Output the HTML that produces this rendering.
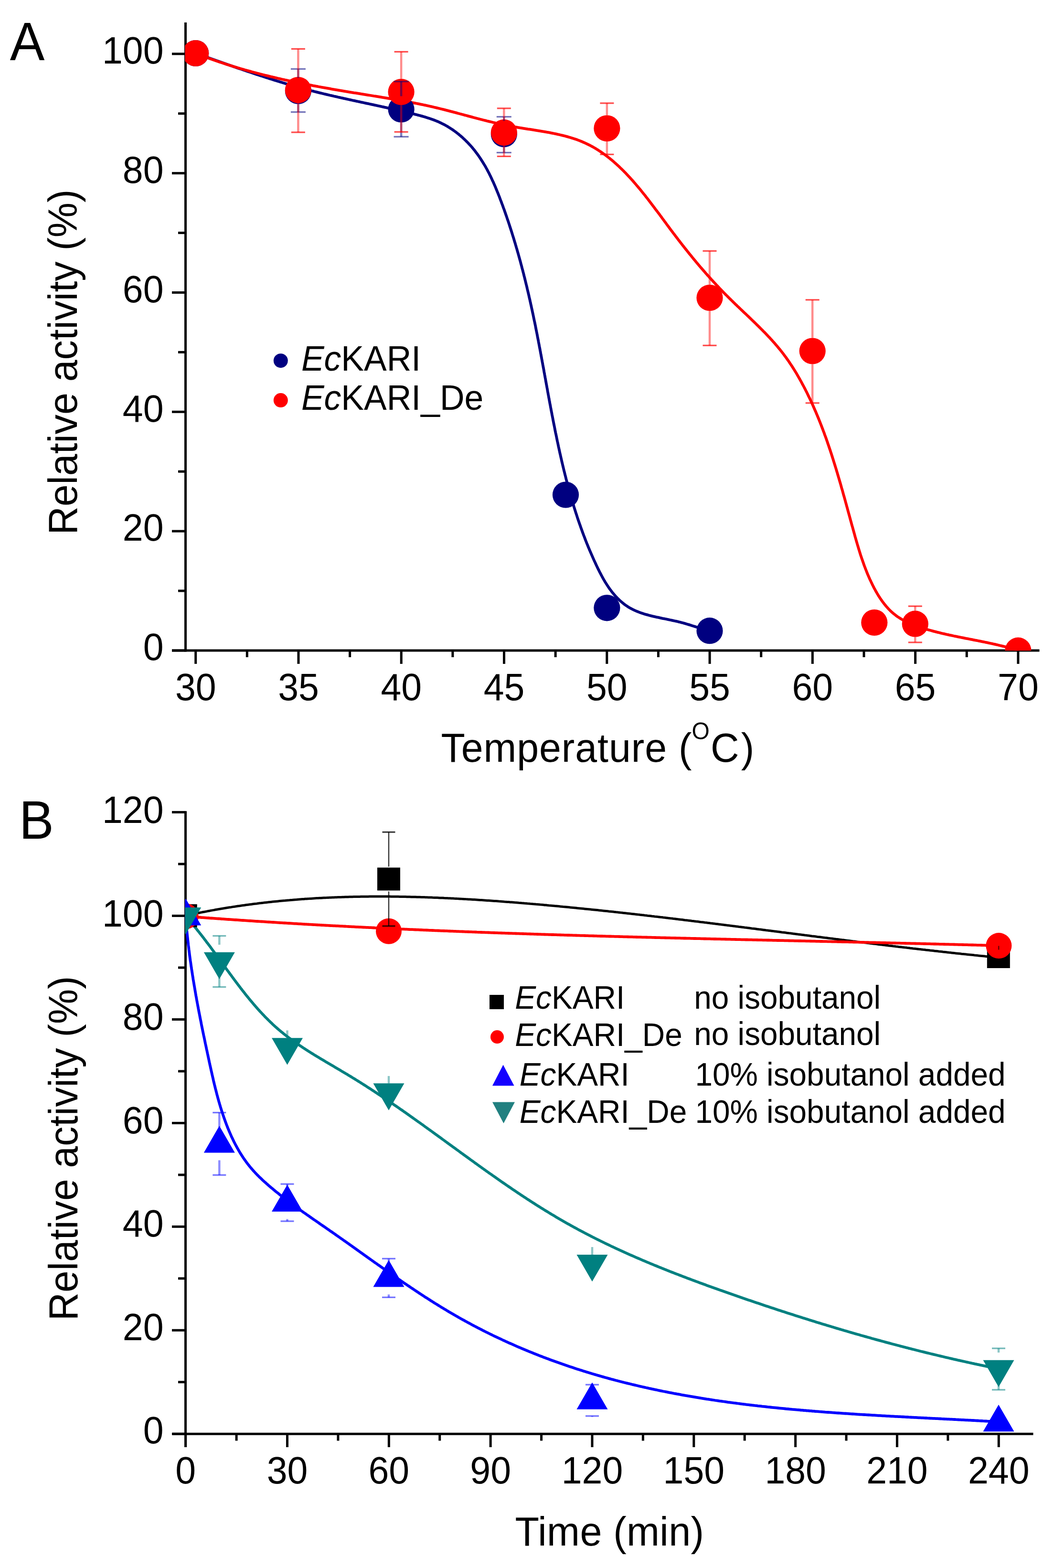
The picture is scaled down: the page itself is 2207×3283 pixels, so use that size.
<!DOCTYPE html>
<html><head><meta charset="utf-8"><title>Relative activity of EcKARI and EcKARI_De</title>
<style>html,body{margin:0;padding:0;background:#fff;}svg{display:block;}text{font-family:"Liberation Sans", Arial, sans-serif;fill:#000;}</style></head><body>
<svg width="2207" height="3283" viewBox="0 0 2207 3283">
<rect x="0" y="0" width="2207" height="3283" fill="#fff"/>
<defs>
<clipPath id="clipA"><rect x="387.4" y="20" width="1820" height="1342.2"/></clipPath>
<clipPath id="clipB"><rect x="387.4" y="1650" width="1820" height="1352.3"/></clipPath>
</defs>
<g stroke="#000" stroke-width="5" fill="none" stroke-linecap="butt">
<line x1="388.5" y1="47" x2="388.5" y2="1364.5"/>
<line x1="360" y1="1362" x2="2176.5" y2="1362"/>
<line x1="360" y1="1362" x2="388.5" y2="1362"/>
<line x1="373" y1="1237.08" x2="388.5" y2="1237.08"/>
<line x1="360" y1="1112.16" x2="388.5" y2="1112.16"/>
<line x1="373" y1="987.24" x2="388.5" y2="987.24"/>
<line x1="360" y1="862.32" x2="388.5" y2="862.32"/>
<line x1="373" y1="737.4" x2="388.5" y2="737.4"/>
<line x1="360" y1="612.48" x2="388.5" y2="612.48"/>
<line x1="373" y1="487.56" x2="388.5" y2="487.56"/>
<line x1="360" y1="362.64" x2="388.5" y2="362.64"/>
<line x1="373" y1="237.72" x2="388.5" y2="237.72"/>
<line x1="360" y1="112.8" x2="388.5" y2="112.8"/>
<line x1="409.7" y1="1362" x2="409.7" y2="1390"/>
<line x1="517.34" y1="1362" x2="517.34" y2="1376"/>
<line x1="624.98" y1="1362" x2="624.98" y2="1390"/>
<line x1="732.61" y1="1362" x2="732.61" y2="1376"/>
<line x1="840.25" y1="1362" x2="840.25" y2="1390"/>
<line x1="947.89" y1="1362" x2="947.89" y2="1376"/>
<line x1="1055.53" y1="1362" x2="1055.53" y2="1390"/>
<line x1="1163.16" y1="1362" x2="1163.16" y2="1376"/>
<line x1="1270.8" y1="1362" x2="1270.8" y2="1390"/>
<line x1="1378.44" y1="1362" x2="1378.44" y2="1376"/>
<line x1="1486.08" y1="1362" x2="1486.08" y2="1390"/>
<line x1="1593.71" y1="1362" x2="1593.71" y2="1376"/>
<line x1="1701.35" y1="1362" x2="1701.35" y2="1390"/>
<line x1="1808.99" y1="1362" x2="1808.99" y2="1376"/>
<line x1="1916.62" y1="1362" x2="1916.62" y2="1390"/>
<line x1="2024.26" y1="1362" x2="2024.26" y2="1376"/>
<line x1="2131.9" y1="1362" x2="2131.9" y2="1390"/>
</g>
<g clip-path="url(#clipA)" fill="none" stroke-linejoin="round" stroke-linecap="butt">
<path d="M409.7 111.5 L412.5 112.5 L415.4 113.5 L418.2 114.5 L421.0 115.5 L423.9 116.5 L426.7 117.5 L429.5 118.5 L432.4 119.5 L435.2 120.5 L438.0 121.5 L440.9 122.5 L443.7 123.5 L446.5 124.5 L449.4 125.5 L452.2 126.5 L455.0 127.5 L457.9 128.5 L460.7 129.5 L463.5 130.5 L466.4 131.5 L469.2 132.5 L472.1 133.5 L474.9 134.5 L477.7 135.5 L480.6 136.5 L483.4 137.4 L486.3 138.4 L489.1 139.4 L492.0 140.4 L494.8 141.4 L497.6 142.4 L500.5 143.4 L503.3 144.3 L506.2 145.3 L509.0 146.3 L511.9 147.3 L514.7 148.2 L517.6 149.2 L520.4 150.2 L523.3 151.1 L526.1 152.1 L529.0 153.0 L531.9 154.0 L534.7 154.9 L537.6 155.9 L540.4 156.8 L543.3 157.8 L546.1 158.7 L549.0 159.6 L551.9 160.6 L554.7 161.5 L557.6 162.4 L560.5 163.3 L563.3 164.3 L566.2 165.2 L569.1 166.1 L571.9 167.0 L574.8 167.9 L577.7 168.8 L580.6 169.7 L583.4 170.5 L586.3 171.4 L589.2 172.3 L592.1 173.2 L594.9 174.0 L597.8 174.9 L600.7 175.8 L603.6 176.6 L606.5 177.5 L609.4 178.3 L612.3 179.1 L615.2 180.0 L618.0 180.8 L620.9 181.6 L623.8 182.4 L626.7 183.2 L629.6 184.0 L632.5 184.8 L635.4 185.6 L638.3 186.4 L641.2 187.2 L644.1 187.9 L647.1 188.7 L650.0 189.4 L652.9 190.2 L655.8 190.9 L658.7 191.7 L661.6 192.4 L664.5 193.1 L667.5 193.9 L670.4 194.6 L673.3 195.3 L676.2 196.0 L679.1 196.7 L682.1 197.4 L685.0 198.1 L687.9 198.8 L690.8 199.5 L693.8 200.1 L696.7 200.8 L699.6 201.5 L702.6 202.1 L705.5 202.8 L708.4 203.5 L711.4 204.1 L714.3 204.8 L717.2 205.4 L720.2 206.1 L723.1 206.7 L726.1 207.4 L729.0 208.0 L731.9 208.7 L734.9 209.3 L737.8 210.0 L740.7 210.6 L743.7 211.2 L746.6 211.9 L749.6 212.5 L752.5 213.1 L755.5 213.8 L758.4 214.4 L761.3 215.0 L764.3 215.7 L767.2 216.3 L770.2 216.9 L773.1 217.5 L776.0 218.2 L779.0 218.8 L781.9 219.4 L784.9 220.1 L787.8 220.7 L790.7 221.4 L793.7 222.0 L796.6 222.6 L799.6 223.3 L802.5 223.9 L805.4 224.6 L808.4 225.2 L811.3 225.9 L814.3 226.5 L817.2 227.2 L820.1 227.8 L823.1 228.5 L826.0 229.1 L828.9 229.8 L831.9 230.5 L834.8 231.2 L837.7 231.8 L840.6 232.5 L843.6 233.2 L846.5 233.9 L849.4 234.6 L852.3 235.3 L855.3 236.0 L858.2 236.7 L861.1 237.4 L864.0 238.1 L867.0 238.8 L869.9 239.6 L872.8 240.3 L875.7 241.1 L878.6 241.8 L881.5 242.6 L884.4 243.4 L887.3 244.2 L890.1 245.1 L893.0 246.0 L895.9 246.9 L898.7 247.8 L901.5 248.7 L904.4 249.7 L907.2 250.7 L910.0 251.8 L912.7 252.9 L915.5 254.0 L918.3 255.2 L921.0 256.5 L923.7 257.7 L926.4 259.1 L929.1 260.4 L931.7 261.8 L934.3 263.3 L937.0 264.8 L939.5 266.4 L942.1 268.0 L944.6 269.6 L947.2 271.3 L949.7 273.0 L952.1 274.8 L954.6 276.6 L957.0 278.5 L959.4 280.3 L961.7 282.3 L964.1 284.2 L966.4 286.2 L968.6 288.2 L970.9 290.3 L973.1 292.3 L975.3 294.5 L977.4 296.6 L979.6 298.8 L981.6 301.0 L983.7 303.2 L985.7 305.4 L987.7 307.7 L989.7 310.0 L991.6 312.3 L993.5 314.6 L995.3 317.0 L997.1 319.4 L998.9 321.8 L1000.7 324.2 L1002.4 326.6 L1004.1 329.1 L1005.8 331.6 L1007.4 334.1 L1009.0 336.6 L1010.6 339.1 L1012.2 341.7 L1013.7 344.3 L1015.3 346.8 L1016.8 349.4 L1018.2 352.0 L1019.7 354.7 L1021.1 357.3 L1022.5 360.0 L1023.9 362.6 L1025.2 365.3 L1026.6 368.0 L1027.9 370.7 L1029.2 373.4 L1030.4 376.2 L1031.7 378.9 L1033.0 381.6 L1034.2 384.4 L1035.4 387.2 L1036.6 389.9 L1037.8 392.7 L1038.9 395.5 L1040.1 398.3 L1041.2 401.1 L1042.4 403.9 L1043.5 406.7 L1044.6 409.5 L1045.7 412.3 L1046.8 415.2 L1047.8 418.0 L1048.9 420.8 L1050.0 423.6 L1051.0 426.5 L1052.1 429.3 L1053.1 432.1 L1054.1 435.0 L1055.2 437.8 L1056.2 440.6 L1057.2 443.5 L1058.2 446.3 L1059.2 449.2 L1060.2 452.0 L1061.2 454.9 L1062.1 457.7 L1063.1 460.5 L1064.1 463.4 L1065.0 466.2 L1066.0 469.1 L1066.9 471.9 L1067.8 474.8 L1068.8 477.7 L1069.7 480.5 L1070.6 483.4 L1071.5 486.2 L1072.4 489.1 L1073.3 492.0 L1074.2 494.8 L1075.1 497.7 L1076.0 500.5 L1076.8 503.4 L1077.7 506.3 L1078.6 509.1 L1079.4 512.0 L1080.3 514.9 L1081.1 517.8 L1082.0 520.6 L1082.8 523.5 L1083.6 526.4 L1084.5 529.3 L1085.3 532.2 L1086.1 535.0 L1086.9 537.9 L1087.7 540.8 L1088.5 543.7 L1089.3 546.6 L1090.1 549.5 L1090.8 552.3 L1091.6 555.2 L1092.4 558.1 L1093.1 561.0 L1093.9 563.9 L1094.7 566.8 L1095.4 569.7 L1096.2 572.6 L1096.9 575.5 L1097.6 578.4 L1098.4 581.3 L1099.1 584.2 L1099.8 587.1 L1100.5 590.0 L1101.2 592.9 L1101.9 595.8 L1102.7 598.8 L1103.4 601.7 L1104.0 604.6 L1104.7 607.5 L1105.4 610.4 L1106.1 613.3 L1106.8 616.2 L1107.5 619.2 L1108.1 622.1 L1108.8 625.0 L1109.5 627.9 L1110.1 630.9 L1110.8 633.8 L1111.4 636.7 L1112.1 639.6 L1112.7 642.6 L1113.3 645.5 L1114.0 648.4 L1114.6 651.4 L1115.2 654.3 L1115.9 657.2 L1116.5 660.2 L1117.1 663.1 L1117.7 666.1 L1118.3 669.0 L1118.9 671.9 L1119.6 674.9 L1120.2 677.8 L1120.8 680.8 L1121.4 683.7 L1121.9 686.7 L1122.5 689.6 L1123.1 692.6 L1123.7 695.5 L1124.3 698.5 L1124.9 701.4 L1125.4 704.4 L1126.0 707.4 L1126.6 710.3 L1127.2 713.3 L1127.7 716.2 L1128.3 719.2 L1128.9 722.2 L1129.4 725.1 L1130.0 728.1 L1130.6 731.1 L1131.1 734.0 L1131.7 737.0 L1132.2 740.0 L1132.8 742.9 L1133.3 745.9 L1133.9 748.9 L1134.4 751.8 L1135.0 754.8 L1135.5 757.8 L1136.1 760.7 L1136.6 763.7 L1137.2 766.7 L1137.7 769.7 L1138.3 772.6 L1138.8 775.6 L1139.3 778.6 L1139.9 781.6 L1140.4 784.5 L1141.0 787.5 L1141.5 790.5 L1142.1 793.5 L1142.6 796.4 L1143.1 799.4 L1143.7 802.4 L1144.2 805.4 L1144.8 808.3 L1145.3 811.3 L1145.9 814.3 L1146.4 817.3 L1146.9 820.2 L1147.5 823.2 L1148.0 826.2 L1148.6 829.2 L1149.1 832.1 L1149.7 835.1 L1150.2 838.1 L1150.8 841.1 L1151.3 844.0 L1151.9 847.0 L1152.5 850.0 L1153.0 853.0 L1153.6 855.9 L1154.1 858.9 L1154.7 861.9 L1155.3 864.8 L1155.8 867.8 L1156.4 870.8 L1157.0 873.7 L1157.6 876.7 L1158.1 879.7 L1158.7 882.6 L1159.3 885.6 L1159.9 888.6 L1160.5 891.5 L1161.1 894.5 L1161.7 897.5 L1162.2 900.4 L1162.8 903.4 L1163.4 906.3 L1164.1 909.3 L1164.7 912.3 L1165.3 915.2 L1165.9 918.2 L1166.5 921.1 L1167.1 924.1 L1167.8 927.0 L1168.4 930.0 L1169.0 932.9 L1169.6 935.9 L1170.3 938.8 L1170.9 941.8 L1171.6 944.7 L1172.2 947.7 L1172.9 950.6 L1173.6 953.5 L1174.2 956.5 L1174.9 959.4 L1175.6 962.4 L1176.2 965.3 L1176.9 968.2 L1177.6 971.1 L1178.3 974.1 L1179.0 977.0 L1179.7 979.9 L1180.4 982.9 L1181.1 985.8 L1181.9 988.7 L1182.6 991.6 L1183.3 994.5 L1184.1 997.4 L1184.8 1000.4 L1185.5 1003.3 L1186.3 1006.2 L1187.1 1009.1 L1187.8 1012.0 L1188.6 1014.9 L1189.4 1017.8 L1190.2 1020.7 L1190.9 1023.6 L1191.7 1026.5 L1192.5 1029.4 L1193.4 1032.3 L1194.2 1035.1 L1195.0 1038.0 L1195.8 1040.9 L1196.7 1043.8 L1197.5 1046.7 L1198.4 1049.5 L1199.2 1052.4 L1200.1 1055.3 L1201.0 1058.1 L1201.8 1061.0 L1202.7 1063.9 L1203.6 1066.7 L1204.5 1069.6 L1205.4 1072.4 L1206.3 1075.3 L1207.3 1078.1 L1208.2 1081.0 L1209.1 1083.8 L1210.1 1086.7 L1211.0 1089.5 L1212.0 1092.3 L1213.0 1095.2 L1214.0 1098.0 L1215.0 1100.8 L1216.0 1103.7 L1217.0 1106.5 L1218.0 1109.3 L1219.0 1112.1 L1220.0 1114.9 L1221.1 1117.7 L1222.1 1120.5 L1223.2 1123.3 L1224.3 1126.1 L1225.3 1128.9 L1226.4 1131.7 L1227.5 1134.5 L1228.6 1137.3 L1229.8 1140.1 L1230.9 1142.8 L1232.0 1145.6 L1233.2 1148.4 L1234.3 1151.1 L1235.5 1153.9 L1236.7 1156.7 L1237.9 1159.4 L1239.1 1162.2 L1240.3 1164.9 L1241.5 1167.7 L1242.7 1170.4 L1243.9 1173.1 L1245.2 1175.9 L1246.5 1178.6 L1247.7 1181.3 L1249.0 1184.1 L1250.3 1186.8 L1251.6 1189.5 L1252.9 1192.2 L1254.3 1194.9 L1255.6 1197.6 L1257.0 1200.2 L1258.4 1202.9 L1259.8 1205.5 L1261.2 1208.1 L1262.7 1210.8 L1264.1 1213.3 L1265.6 1215.9 L1267.1 1218.5 L1268.7 1221.0 L1270.3 1223.5 L1271.9 1226.0 L1273.5 1228.4 L1275.1 1230.8 L1276.8 1233.2 L1278.6 1235.6 L1280.3 1237.9 L1282.1 1240.2 L1283.9 1242.4 L1285.8 1244.7 L1287.7 1246.8 L1289.6 1249.0 L1291.6 1251.1 L1293.6 1253.2 L1295.7 1255.2 L1297.7 1257.1 L1299.9 1259.1 L1302.1 1260.9 L1304.3 1262.8 L1306.6 1264.6 L1308.9 1266.3 L1311.3 1268.0 L1313.7 1269.6 L1316.2 1271.2 L1318.7 1272.7 L1321.3 1274.1 L1323.9 1275.5 L1326.6 1276.9 L1329.3 1278.1 L1332.1 1279.3 L1335.0 1280.5 L1337.8 1281.6 L1340.7 1282.7 L1343.7 1283.7 L1346.7 1284.7 L1349.7 1285.7 L1352.8 1286.6 L1355.8 1287.4 L1358.9 1288.3 L1362.0 1289.1 L1365.2 1289.9 L1368.3 1290.6 L1371.5 1291.3 L1374.7 1292.1 L1377.9 1292.7 L1381.0 1293.4 L1384.2 1294.1 L1387.4 1294.8 L1390.6 1295.4 L1393.8 1296.0 L1396.9 1296.7 L1400.1 1297.3 L1403.2 1298.0 L1406.3 1298.6 L1409.4 1299.3 L1412.5 1300.0 L1415.5 1300.6 L1418.5 1301.3 L1421.5 1302.1 L1424.5 1302.8 L1427.4 1303.6 L1430.3 1304.3 L1433.1 1305.1 L1435.9 1305.9 L1438.7 1306.8 L1441.5 1307.6 L1444.3 1308.4 L1447.0 1309.3 L1449.7 1310.2 L1452.5 1311.0 L1455.2 1311.9 L1457.9 1312.7 L1460.7 1313.6 L1463.4 1314.4 L1466.2 1315.3 L1468.9 1316.1 L1471.7 1316.9 L1474.5 1317.7 L1477.3 1318.5 L1480.2 1319.2 L1483.1 1320.0 L1486.0 1320.7" stroke="#000080" stroke-width="5.8"/>
<path d="M409.7 111.49 L412.5 112.6 L415.3 113.7 L418.2 114.8 L421.0 115.9 L423.8 117.0 L426.6 118.0 L429.5 119.1 L432.3 120.2 L435.1 121.2 L438.0 122.2 L440.8 123.3 L443.7 124.3 L446.5 125.3 L449.3 126.3 L452.2 127.3 L455.0 128.2 L457.9 129.2 L460.7 130.2 L463.6 131.1 L466.4 132.1 L469.3 133.0 L472.2 134.0 L475.0 134.9 L477.9 135.8 L480.7 136.7 L483.6 137.6 L486.5 138.5 L489.3 139.4 L492.2 140.2 L495.1 141.1 L498.0 142.0 L500.8 142.8 L503.7 143.7 L506.6 144.5 L509.5 145.3 L512.4 146.2 L515.2 147.0 L518.1 147.8 L521.0 148.6 L523.9 149.4 L526.8 150.2 L529.7 151.0 L532.6 151.7 L535.5 152.5 L538.4 153.3 L541.3 154.0 L544.2 154.8 L547.1 155.5 L550.0 156.3 L552.9 157.0 L555.8 157.7 L558.7 158.4 L561.6 159.1 L564.5 159.9 L567.4 160.6 L570.3 161.2 L573.2 161.9 L576.2 162.6 L579.1 163.3 L582.0 164.0 L584.9 164.6 L587.8 165.3 L590.8 166.0 L593.7 166.6 L596.6 167.3 L599.5 167.9 L602.5 168.5 L605.4 169.2 L608.3 169.8 L611.2 170.4 L614.2 171.1 L617.1 171.7 L620.0 172.3 L623.0 172.9 L625.9 173.5 L628.9 174.1 L631.8 174.7 L634.7 175.3 L637.7 175.8 L640.6 176.4 L643.6 177.0 L646.5 177.6 L649.5 178.1 L652.4 178.7 L655.3 179.3 L658.3 179.8 L661.2 180.4 L664.2 180.9 L667.1 181.5 L670.1 182.0 L673.1 182.6 L676.0 183.1 L679.0 183.6 L681.9 184.2 L684.9 184.7 L687.8 185.2 L690.8 185.7 L693.8 186.3 L696.7 186.8 L699.7 187.3 L702.6 187.8 L705.6 188.3 L708.6 188.8 L711.5 189.3 L714.5 189.8 L717.5 190.3 L720.4 190.8 L723.4 191.3 L726.4 191.8 L729.3 192.3 L732.3 192.8 L735.3 193.3 L738.2 193.8 L741.2 194.3 L744.2 194.7 L747.2 195.2 L750.1 195.7 L753.1 196.2 L756.1 196.7 L759.1 197.1 L762.0 197.6 L765.0 198.1 L768.0 198.6 L771.0 199.1 L773.9 199.5 L776.9 200.0 L779.9 200.5 L782.9 201.0 L785.9 201.4 L788.8 201.9 L791.8 202.4 L794.8 202.9 L797.8 203.4 L800.7 203.9 L803.7 204.3 L806.7 204.8 L809.7 205.3 L812.6 205.8 L815.6 206.3 L818.6 206.8 L821.5 207.3 L824.5 207.8 L827.5 208.3 L830.4 208.8 L833.4 209.4 L836.4 209.9 L839.3 210.4 L842.3 210.9 L845.2 211.5 L848.2 212.0 L851.2 212.5 L854.1 213.1 L857.1 213.6 L860.0 214.2 L863.0 214.8 L865.9 215.3 L868.9 215.9 L871.8 216.5 L874.7 217.1 L877.7 217.7 L880.6 218.3 L883.5 218.9 L886.5 219.5 L889.4 220.1 L892.3 220.7 L895.2 221.4 L898.2 222.0 L901.1 222.7 L904.0 223.3 L906.9 224.0 L909.8 224.7 L912.7 225.4 L915.6 226.1 L918.5 226.8 L921.4 227.5 L924.3 228.2 L927.2 228.9 L930.1 229.6 L933.0 230.4 L935.9 231.1 L938.8 231.9 L941.6 232.6 L944.5 233.4 L947.4 234.1 L950.3 234.9 L953.2 235.6 L956.0 236.4 L958.9 237.2 L961.8 238.0 L964.7 238.7 L967.5 239.5 L970.4 240.3 L973.3 241.1 L976.2 241.8 L979.1 242.6 L981.9 243.4 L984.8 244.1 L987.7 244.9 L990.6 245.7 L993.5 246.5 L996.4 247.2 L999.3 248.0 L1002.1 248.7 L1005.0 249.5 L1007.9 250.2 L1010.8 251.0 L1013.7 251.7 L1016.6 252.4 L1019.5 253.2 L1022.5 253.9 L1025.4 254.6 L1028.3 255.3 L1031.2 256.0 L1034.1 256.7 L1037.1 257.4 L1040.0 258.0 L1042.9 258.7 L1045.9 259.4 L1048.8 260.0 L1051.8 260.6 L1054.7 261.3 L1057.7 261.9 L1060.7 262.5 L1063.6 263.1 L1066.6 263.6 L1069.6 264.2 L1072.6 264.8 L1075.6 265.3 L1078.6 265.8 L1081.6 266.3 L1084.6 266.9 L1087.6 267.4 L1090.6 267.8 L1093.6 268.3 L1096.6 268.8 L1099.7 269.3 L1102.7 269.8 L1105.7 270.3 L1108.7 270.7 L1111.8 271.2 L1114.8 271.7 L1117.8 272.2 L1120.8 272.6 L1123.8 273.1 L1126.8 273.6 L1129.9 274.1 L1132.9 274.6 L1135.9 275.1 L1138.9 275.6 L1141.9 276.1 L1144.8 276.7 L1147.8 277.2 L1150.8 277.7 L1153.8 278.3 L1156.7 278.9 L1159.7 279.5 L1162.6 280.1 L1165.6 280.7 L1168.5 281.4 L1171.4 282.0 L1174.3 282.7 L1177.2 283.4 L1180.1 284.1 L1183.0 284.8 L1185.9 285.6 L1188.7 286.4 L1191.5 287.2 L1194.4 288.0 L1197.2 288.9 L1200.0 289.8 L1202.8 290.7 L1205.5 291.6 L1208.3 292.6 L1211.0 293.6 L1213.8 294.6 L1216.5 295.7 L1219.2 296.8 L1221.8 298.0 L1224.5 299.1 L1227.1 300.3 L1229.7 301.6 L1232.3 302.9 L1234.9 304.2 L1237.5 305.5 L1240.0 306.9 L1242.5 308.3 L1245.1 309.8 L1247.6 311.2 L1250.0 312.8 L1252.5 314.3 L1254.9 315.9 L1257.4 317.5 L1259.8 319.1 L1262.2 320.8 L1264.5 322.5 L1266.9 324.2 L1269.3 325.9 L1271.6 327.7 L1273.9 329.5 L1276.2 331.3 L1278.5 333.2 L1280.8 335.1 L1283.1 337.0 L1285.3 338.9 L1287.5 340.9 L1289.8 342.8 L1292.0 344.8 L1294.2 346.9 L1296.4 348.9 L1298.5 351.0 L1300.7 353.1 L1302.9 355.2 L1305.0 357.3 L1307.1 359.4 L1309.2 361.6 L1311.3 363.8 L1313.4 366.0 L1315.5 368.2 L1317.6 370.4 L1319.7 372.7 L1321.7 374.9 L1323.8 377.2 L1325.8 379.5 L1327.8 381.8 L1329.8 384.1 L1331.8 386.5 L1333.8 388.8 L1335.8 391.2 L1337.8 393.6 L1339.8 395.9 L1341.8 398.3 L1343.7 400.7 L1345.7 403.2 L1347.6 405.6 L1349.6 408.0 L1351.5 410.4 L1353.4 412.9 L1355.3 415.3 L1357.2 417.8 L1359.1 420.3 L1361.0 422.7 L1362.9 425.2 L1364.8 427.7 L1366.7 430.2 L1368.6 432.7 L1370.5 435.2 L1372.3 437.7 L1374.2 440.2 L1376.1 442.6 L1377.9 445.1 L1379.8 447.6 L1381.7 450.1 L1383.5 452.6 L1385.4 455.1 L1387.2 457.6 L1389.0 460.1 L1390.9 462.6 L1392.7 465.1 L1394.6 467.6 L1396.4 470.1 L1398.2 472.5 L1400.1 475.0 L1401.9 477.5 L1403.7 479.9 L1405.6 482.4 L1407.4 484.8 L1409.2 487.3 L1411.1 489.7 L1412.9 492.1 L1414.7 494.5 L1416.6 496.9 L1418.4 499.3 L1420.2 501.7 L1422.1 504.1 L1423.9 506.5 L1425.7 508.8 L1427.6 511.2 L1429.4 513.6 L1431.3 515.9 L1433.1 518.2 L1435.0 520.6 L1436.8 522.9 L1438.7 525.2 L1440.5 527.5 L1442.4 529.9 L1444.2 532.2 L1446.1 534.4 L1448.0 536.7 L1449.8 539.0 L1451.7 541.3 L1453.6 543.6 L1455.5 545.8 L1457.3 548.1 L1459.2 550.3 L1461.1 552.6 L1463.0 554.8 L1464.9 557.1 L1466.8 559.3 L1468.7 561.5 L1470.6 563.7 L1472.6 566.0 L1474.5 568.2 L1476.4 570.4 L1478.3 572.6 L1480.3 574.8 L1482.2 577.0 L1484.2 579.1 L1486.1 581.3 L1488.1 583.5 L1490.1 585.7 L1492.1 587.8 L1494.0 590.0 L1496.0 592.1 L1498.0 594.3 L1500.0 596.5 L1502.1 598.6 L1504.1 600.7 L1506.1 602.9 L1508.1 605.0 L1510.2 607.1 L1512.2 609.3 L1514.3 611.4 L1516.3 613.5 L1518.4 615.6 L1520.5 617.7 L1522.6 619.8 L1524.7 621.9 L1526.8 624.0 L1528.9 626.1 L1531.1 628.2 L1533.2 630.3 L1535.3 632.4 L1537.5 634.5 L1539.6 636.6 L1541.8 638.7 L1544.0 640.8 L1546.2 642.8 L1548.3 644.9 L1550.5 647.0 L1552.7 649.1 L1554.9 651.2 L1557.1 653.3 L1559.3 655.4 L1561.5 657.4 L1563.7 659.5 L1565.9 661.6 L1568.1 663.7 L1570.3 665.8 L1572.4 667.9 L1574.6 670.0 L1576.8 672.1 L1579.0 674.2 L1581.2 676.3 L1583.4 678.5 L1585.5 680.6 L1587.7 682.7 L1589.9 684.9 L1592.0 687.0 L1594.2 689.2 L1596.3 691.3 L1598.4 693.5 L1600.6 695.6 L1602.7 697.8 L1604.8 700.0 L1606.9 702.2 L1608.9 704.4 L1611.0 706.6 L1613.1 708.8 L1615.1 711.1 L1617.2 713.3 L1619.2 715.6 L1621.2 717.8 L1623.2 720.1 L1625.1 722.4 L1627.1 724.7 L1629.0 727.0 L1631.0 729.3 L1632.9 731.6 L1634.8 734.0 L1636.6 736.3 L1638.5 738.7 L1640.3 741.1 L1642.1 743.5 L1643.9 745.9 L1645.7 748.3 L1647.4 750.7 L1649.2 753.2 L1650.9 755.6 L1652.6 758.1 L1654.2 760.6 L1655.9 763.1 L1657.6 765.6 L1659.2 768.1 L1660.8 770.6 L1662.4 773.2 L1664.0 775.7 L1665.5 778.3 L1667.1 780.8 L1668.6 783.4 L1670.1 786.0 L1671.6 788.6 L1673.1 791.2 L1674.6 793.8 L1676.0 796.4 L1677.5 799.0 L1678.9 801.6 L1680.3 804.3 L1681.7 806.9 L1683.1 809.5 L1684.5 812.2 L1685.9 814.8 L1687.2 817.5 L1688.6 820.2 L1689.9 822.8 L1691.2 825.5 L1692.5 828.2 L1693.8 830.9 L1695.1 833.6 L1696.4 836.2 L1697.7 838.9 L1698.9 841.7 L1700.2 844.4 L1701.4 847.1 L1702.6 849.8 L1703.8 852.5 L1705.0 855.2 L1706.2 858.0 L1707.4 860.7 L1708.6 863.4 L1709.7 866.2 L1710.9 868.9 L1712.0 871.7 L1713.2 874.5 L1714.3 877.2 L1715.4 880.0 L1716.5 882.7 L1717.6 885.5 L1718.7 888.3 L1719.8 891.1 L1720.9 893.9 L1721.9 896.7 L1723.0 899.4 L1724.0 902.2 L1725.1 905.0 L1726.1 907.8 L1727.1 910.7 L1728.2 913.5 L1729.2 916.3 L1730.2 919.1 L1731.2 921.9 L1732.2 924.7 L1733.1 927.6 L1734.1 930.4 L1735.1 933.2 L1736.0 936.1 L1737.0 938.9 L1738.0 941.8 L1738.9 944.6 L1739.8 947.4 L1740.8 950.3 L1741.7 953.2 L1742.6 956.0 L1743.5 958.9 L1744.4 961.7 L1745.3 964.6 L1746.2 967.5 L1747.1 970.3 L1748.0 973.2 L1748.9 976.1 L1749.8 979.0 L1750.7 981.8 L1751.5 984.7 L1752.4 987.6 L1753.3 990.5 L1754.1 993.4 L1755.0 996.3 L1755.8 999.1 L1756.7 1002.0 L1757.5 1004.9 L1758.4 1007.8 L1759.2 1010.7 L1760.1 1013.6 L1760.9 1016.5 L1761.7 1019.4 L1762.5 1022.3 L1763.4 1025.2 L1764.2 1028.1 L1765.0 1031.0 L1765.8 1034.0 L1766.6 1036.9 L1767.5 1039.8 L1768.3 1042.7 L1769.1 1045.6 L1769.9 1048.5 L1770.7 1051.4 L1771.5 1054.3 L1772.3 1057.3 L1773.1 1060.2 L1773.9 1063.1 L1774.7 1066.0 L1775.5 1068.9 L1776.3 1071.9 L1777.1 1074.8 L1777.9 1077.7 L1778.7 1080.6 L1779.5 1083.5 L1780.3 1086.5 L1781.1 1089.4 L1781.9 1092.3 L1782.7 1095.2 L1783.5 1098.2 L1784.3 1101.1 L1785.2 1104.0 L1786.0 1106.9 L1786.8 1109.9 L1787.6 1112.8 L1788.4 1115.7 L1789.2 1118.6 L1790.0 1121.5 L1790.8 1124.5 L1791.7 1127.4 L1792.5 1130.3 L1793.3 1133.2 L1794.2 1136.1 L1795.0 1139.0 L1795.9 1141.9 L1796.8 1144.8 L1797.6 1147.7 L1798.5 1150.6 L1799.4 1153.5 L1800.3 1156.4 L1801.2 1159.3 L1802.1 1162.2 L1803.1 1165.1 L1804.0 1167.9 L1805.0 1170.8 L1806.0 1173.6 L1807.0 1176.5 L1808.0 1179.3 L1809.0 1182.2 L1810.0 1185.0 L1811.1 1187.8 L1812.2 1190.7 L1813.3 1193.5 L1814.4 1196.3 L1815.5 1199.1 L1816.6 1201.8 L1817.8 1204.6 L1819.0 1207.4 L1820.2 1210.2 L1821.4 1212.9 L1822.7 1215.6 L1824.0 1218.4 L1825.3 1221.1 L1826.6 1223.8 L1828.0 1226.5 L1829.3 1229.2 L1830.7 1231.9 L1832.2 1234.5 L1833.6 1237.2 L1835.1 1239.8 L1836.6 1242.4 L1838.2 1245.0 L1839.7 1247.6 L1841.4 1250.1 L1843.0 1252.6 L1844.7 1255.1 L1846.4 1257.5 L1848.1 1259.9 L1849.9 1262.3 L1851.7 1264.6 L1853.6 1266.9 L1855.4 1269.2 L1857.4 1271.4 L1859.3 1273.6 L1861.3 1275.7 L1863.4 1277.8 L1865.5 1279.8 L1867.6 1281.8 L1869.8 1283.7 L1872.0 1285.5 L1874.3 1287.3 L1876.6 1289.1 L1878.9 1290.8 L1881.3 1292.4 L1883.8 1294.0 L1886.2 1295.5 L1888.7 1297.0 L1891.3 1298.4 L1893.8 1299.8 L1896.4 1301.1 L1899.1 1302.4 L1901.7 1303.7 L1904.4 1304.9 L1907.1 1306.1 L1909.9 1307.2 L1912.6 1308.3 L1915.4 1309.4 L1918.2 1310.4 L1921.0 1311.5 L1923.9 1312.4 L1926.7 1313.4 L1929.6 1314.3 L1932.4 1315.3 L1935.3 1316.1 L1938.2 1317.0 L1941.1 1317.9 L1944.0 1318.7 L1946.9 1319.5 L1949.8 1320.3 L1952.7 1321.1 L1955.6 1321.9 L1958.6 1322.6 L1961.5 1323.4 L1964.4 1324.1 L1967.4 1324.8 L1970.3 1325.6 L1973.3 1326.3 L1976.2 1326.9 L1979.2 1327.6 L1982.1 1328.3 L1985.1 1328.9 L1988.0 1329.6 L1991.0 1330.2 L1994.0 1330.8 L1996.9 1331.5 L1999.9 1332.1 L2002.9 1332.7 L2005.8 1333.3 L2008.8 1333.9 L2011.8 1334.5 L2014.8 1335.1 L2017.7 1335.7 L2020.7 1336.3 L2023.7 1336.9 L2026.7 1337.4 L2029.6 1338.0 L2032.6 1338.6 L2035.6 1339.2 L2038.6 1339.8 L2041.5 1340.4 L2044.5 1340.9 L2047.5 1341.5 L2050.4 1342.1 L2053.4 1342.7 L2056.4 1343.3 L2059.3 1343.9 L2062.3 1344.5 L2065.2 1345.1 L2068.2 1345.7 L2071.1 1346.4 L2074.1 1347.0 L2077.0 1347.6 L2080.0 1348.3 L2082.9 1348.9 L2085.8 1349.6 L2088.7 1350.3 L2091.7 1351.0 L2094.6 1351.7 L2097.5 1352.4 L2100.4 1353.1 L2103.3 1353.8 L2106.2 1354.6 L2109.1 1355.3 L2111.9 1356.1 L2114.8 1356.9 L2117.7 1357.7 L2120.5 1358.5 L2123.4 1359.4 L2126.2 1360.2 L2129.1 1361.1 L2131.9 1362.0" stroke="#ff0000" stroke-width="5.8"/>
</g>
<g clip-path="url(#clipA)">
<circle cx="409.7" cy="111.5" r="27.6" fill="#000080"/>
<circle cx="624.4" cy="190.5" r="27.6" fill="#000080"/>
<circle cx="840.1" cy="229" r="27.6" fill="#000080"/>
<circle cx="1055.3" cy="280.8" r="27.6" fill="#000080"/>
<circle cx="1184.5" cy="1036" r="27.6" fill="#000080"/>
<circle cx="1270.9" cy="1272.8" r="27.6" fill="#000080"/>
<circle cx="1486" cy="1320.7" r="27.6" fill="#000080"/>
<circle cx="409.7" cy="111.5" r="27.6" fill="#ff0000"/>
<circle cx="624.4" cy="188.6" r="27.6" fill="#ff0000"/>
<circle cx="840.1" cy="192.5" r="27.6" fill="#ff0000"/>
<circle cx="1055.3" cy="277.5" r="27.6" fill="#ff0000"/>
<circle cx="1270.9" cy="268.8" r="27.6" fill="#ff0000"/>
<circle cx="1486" cy="623.5" r="27.6" fill="#ff0000"/>
<circle cx="1701.2" cy="735" r="27.6" fill="#ff0000"/>
<circle cx="1830.8" cy="1303.5" r="27.6" fill="#ff0000"/>
<circle cx="1916.3" cy="1306.2" r="27.6" fill="#ff0000"/>
<circle cx="2131.9" cy="1362.2" r="27.6" fill="#ff0000"/>
</g>
<g>
<line x1="624.4" y1="144.4" x2="624.4" y2="162.9" stroke="#000080" stroke-opacity="0.5" stroke-width="4.5"/><line x1="624.4" y1="218.1" x2="624.4" y2="234.6" stroke="#000080" stroke-opacity="0.5" stroke-width="4.5"/><line x1="608.9" y1="144.4" x2="639.9" y2="144.4" stroke="#000080" stroke-opacity="0.55" stroke-width="3.2"/><line x1="608.9" y1="234.6" x2="639.9" y2="234.6" stroke="#000080" stroke-opacity="0.55" stroke-width="3.2"/>
<line x1="840.1" y1="170.7" x2="840.1" y2="201.4" stroke="#000080" stroke-opacity="0.5" stroke-width="4.5"/><line x1="840.1" y1="256.6" x2="840.1" y2="286.3" stroke="#000080" stroke-opacity="0.5" stroke-width="4.5"/><line x1="824.6" y1="170.7" x2="855.6" y2="170.7" stroke="#000080" stroke-opacity="0.55" stroke-width="3.2"/><line x1="824.6" y1="286.3" x2="855.6" y2="286.3" stroke="#000080" stroke-opacity="0.55" stroke-width="3.2"/>
<line x1="1055.3" y1="244.5" x2="1055.3" y2="253.2" stroke="#000080" stroke-opacity="0.5" stroke-width="4.5"/><line x1="1055.3" y1="308.4" x2="1055.3" y2="319.5" stroke="#000080" stroke-opacity="0.5" stroke-width="4.5"/><line x1="1039.8" y1="244.5" x2="1070.8" y2="244.5" stroke="#000080" stroke-opacity="0.55" stroke-width="3.2"/><line x1="1039.8" y1="319.5" x2="1070.8" y2="319.5" stroke="#000080" stroke-opacity="0.55" stroke-width="3.2"/>
<line x1="624.4" y1="102.4" x2="624.4" y2="161" stroke="#ff0000" stroke-opacity="0.45" stroke-width="4.5"/><line x1="624.4" y1="216.2" x2="624.4" y2="277" stroke="#ff0000" stroke-opacity="0.45" stroke-width="4.5"/><line x1="609.9" y1="102.4" x2="638.9" y2="102.4" stroke="#ff0000" stroke-opacity="0.7" stroke-width="3.2"/><line x1="609.9" y1="277" x2="638.9" y2="277" stroke="#ff0000" stroke-opacity="0.7" stroke-width="3.2"/>
<line x1="840.1" y1="108.4" x2="840.1" y2="164.9" stroke="#ff0000" stroke-opacity="0.45" stroke-width="4.5"/><line x1="840.1" y1="220.1" x2="840.1" y2="276.2" stroke="#ff0000" stroke-opacity="0.45" stroke-width="4.5"/><line x1="825.6" y1="108.4" x2="854.6" y2="108.4" stroke="#ff0000" stroke-opacity="0.7" stroke-width="3.2"/><line x1="825.6" y1="276.2" x2="854.6" y2="276.2" stroke="#ff0000" stroke-opacity="0.7" stroke-width="3.2"/>
<line x1="1055.3" y1="226.8" x2="1055.3" y2="249.9" stroke="#ff0000" stroke-opacity="0.45" stroke-width="4.5"/><line x1="1055.3" y1="305.1" x2="1055.3" y2="327.4" stroke="#ff0000" stroke-opacity="0.45" stroke-width="4.5"/><line x1="1040.8" y1="226.8" x2="1069.8" y2="226.8" stroke="#ff0000" stroke-opacity="0.7" stroke-width="3.2"/><line x1="1040.8" y1="327.4" x2="1069.8" y2="327.4" stroke="#ff0000" stroke-opacity="0.7" stroke-width="3.2"/>
<line x1="1270.9" y1="216" x2="1270.9" y2="241.2" stroke="#ff0000" stroke-opacity="0.45" stroke-width="4.5"/><line x1="1270.9" y1="296.4" x2="1270.9" y2="323.3" stroke="#ff0000" stroke-opacity="0.45" stroke-width="4.5"/><line x1="1256.4" y1="216" x2="1285.4" y2="216" stroke="#ff0000" stroke-opacity="0.7" stroke-width="3.2"/><line x1="1256.4" y1="323.3" x2="1285.4" y2="323.3" stroke="#ff0000" stroke-opacity="0.7" stroke-width="3.2"/>
<line x1="1486" y1="525.5" x2="1486" y2="595.9" stroke="#ff0000" stroke-opacity="0.45" stroke-width="4.5"/><line x1="1486" y1="651.1" x2="1486" y2="723.3" stroke="#ff0000" stroke-opacity="0.45" stroke-width="4.5"/><line x1="1471.5" y1="525.5" x2="1500.5" y2="525.5" stroke="#ff0000" stroke-opacity="0.7" stroke-width="3.2"/><line x1="1471.5" y1="723.3" x2="1500.5" y2="723.3" stroke="#ff0000" stroke-opacity="0.7" stroke-width="3.2"/>
<line x1="1701.2" y1="627.8" x2="1701.2" y2="707.4" stroke="#ff0000" stroke-opacity="0.45" stroke-width="4.5"/><line x1="1701.2" y1="762.6" x2="1701.2" y2="843.8" stroke="#ff0000" stroke-opacity="0.45" stroke-width="4.5"/><line x1="1686.7" y1="627.8" x2="1715.7" y2="627.8" stroke="#ff0000" stroke-opacity="0.7" stroke-width="3.2"/><line x1="1686.7" y1="843.8" x2="1715.7" y2="843.8" stroke="#ff0000" stroke-opacity="0.7" stroke-width="3.2"/>
<line x1="1916.3" y1="1269.2" x2="1916.3" y2="1278.6" stroke="#ff0000" stroke-opacity="0.45" stroke-width="4.5"/><line x1="1916.3" y1="1333.8" x2="1916.3" y2="1345" stroke="#ff0000" stroke-opacity="0.45" stroke-width="4.5"/><line x1="1901.8" y1="1269.2" x2="1930.8" y2="1269.2" stroke="#ff0000" stroke-opacity="0.7" stroke-width="3.2"/><line x1="1901.8" y1="1345" x2="1930.8" y2="1345" stroke="#ff0000" stroke-opacity="0.7" stroke-width="3.2"/>
</g>
<text transform="translate(342.5 1382.3) scale(1 1.04)" font-size="77" text-anchor="end">0</text>
<text transform="translate(342.5 1132.46) scale(1 1.04)" font-size="77" text-anchor="end">20</text>
<text transform="translate(342.5 882.62) scale(1 1.04)" font-size="77" text-anchor="end">40</text>
<text transform="translate(342.5 632.78) scale(1 1.04)" font-size="77" text-anchor="end">60</text>
<text transform="translate(342.5 382.94) scale(1 1.04)" font-size="77" text-anchor="end">80</text>
<text transform="translate(342.5 133.1) scale(1 1.04)" font-size="77" text-anchor="end">100</text>
<text transform="translate(409.7 1465.6) scale(1 1.04)" font-size="77" text-anchor="middle">30</text>
<text transform="translate(624.98 1465.6) scale(1 1.04)" font-size="77" text-anchor="middle">35</text>
<text transform="translate(840.25 1465.6) scale(1 1.04)" font-size="77" text-anchor="middle">40</text>
<text transform="translate(1055.53 1465.6) scale(1 1.04)" font-size="77" text-anchor="middle">45</text>
<text transform="translate(1270.8 1465.6) scale(1 1.04)" font-size="77" text-anchor="middle">50</text>
<text transform="translate(1486.08 1465.6) scale(1 1.04)" font-size="77" text-anchor="middle">55</text>
<text transform="translate(1701.35 1465.6) scale(1 1.04)" font-size="77" text-anchor="middle">60</text>
<text transform="translate(1916.62 1465.6) scale(1 1.04)" font-size="77" text-anchor="middle">65</text>
<text transform="translate(2131.9 1465.6) scale(1 1.04)" font-size="77" text-anchor="middle">70</text>
<text transform="translate(20.8 125.5) scale(1 1.04)" font-size="109">A</text>
<text transform="translate(160.8 1119.8) rotate(-90) scale(1 1.04)" font-size="82.4">Relative activity (%)</text>
<text transform="translate(923.5 1594.5) scale(1 1.04)" font-size="82.5" letter-spacing="0.95">Temperature (</text>
<text transform="translate(1448.6 1548.3) scale(1 1.04)" font-size="48">O</text>
<text transform="translate(1488.1 1594.5) scale(1 1.04)" font-size="82.5">C</text>
<text transform="translate(1551.8 1594.5) scale(1 1.04)" font-size="82.5">)</text>
<circle cx="587.8" cy="755.2" r="15" fill="#000080"/>
<circle cx="587.8" cy="838.1" r="15" fill="#ff0000"/>
<text transform="translate(630.9 776) scale(1 1.04)" font-size="71.5"><tspan font-style="italic">Ec</tspan>KARI</text>
<text transform="translate(630.9 858) scale(1 1.04)" font-size="71.5"><tspan font-style="italic">Ec</tspan>KARI_De</text>
<g stroke="#000" stroke-width="5" fill="none" stroke-linecap="butt">
<line x1="388.5" y1="1698.26" x2="388.5" y2="3030"/>
<line x1="361" y1="3002.2" x2="2163.5" y2="3002.2"/>
<line x1="360" y1="3002.2" x2="388.5" y2="3002.2"/>
<line x1="373" y1="2893.73" x2="388.5" y2="2893.73"/>
<line x1="360" y1="2785.26" x2="388.5" y2="2785.26"/>
<line x1="373" y1="2676.79" x2="388.5" y2="2676.79"/>
<line x1="360" y1="2568.32" x2="388.5" y2="2568.32"/>
<line x1="373" y1="2459.85" x2="388.5" y2="2459.85"/>
<line x1="360" y1="2351.38" x2="388.5" y2="2351.38"/>
<line x1="373" y1="2242.91" x2="388.5" y2="2242.91"/>
<line x1="360" y1="2134.44" x2="388.5" y2="2134.44"/>
<line x1="373" y1="2025.97" x2="388.5" y2="2025.97"/>
<line x1="360" y1="1917.5" x2="388.5" y2="1917.5"/>
<line x1="373" y1="1809.03" x2="388.5" y2="1809.03"/>
<line x1="360" y1="1700.56" x2="388.5" y2="1700.56"/>
<line x1="388.7" y1="3002.2" x2="388.7" y2="3030"/>
<line x1="495.11" y1="3002.2" x2="495.11" y2="3016.5"/>
<line x1="601.52" y1="3002.2" x2="601.52" y2="3030"/>
<line x1="707.93" y1="3002.2" x2="707.93" y2="3016.5"/>
<line x1="814.34" y1="3002.2" x2="814.34" y2="3030"/>
<line x1="920.75" y1="3002.2" x2="920.75" y2="3016.5"/>
<line x1="1027.16" y1="3002.2" x2="1027.16" y2="3030"/>
<line x1="1133.57" y1="3002.2" x2="1133.57" y2="3016.5"/>
<line x1="1239.98" y1="3002.2" x2="1239.98" y2="3030"/>
<line x1="1346.39" y1="3002.2" x2="1346.39" y2="3016.5"/>
<line x1="1452.8" y1="3002.2" x2="1452.8" y2="3030"/>
<line x1="1559.21" y1="3002.2" x2="1559.21" y2="3016.5"/>
<line x1="1665.62" y1="3002.2" x2="1665.62" y2="3030"/>
<line x1="1772.03" y1="3002.2" x2="1772.03" y2="3016.5"/>
<line x1="1878.44" y1="3002.2" x2="1878.44" y2="3030"/>
<line x1="1984.85" y1="3002.2" x2="1984.85" y2="3016.5"/>
<line x1="2091.26" y1="3002.2" x2="2091.26" y2="3030"/>
</g>
<g clip-path="url(#clipB)" fill="none" stroke-linejoin="round">
<path d="M388.7 1917.19 L391.7 1916.5 L394.6 1915.9 L397.6 1915.3 L400.6 1914.6 L403.5 1914.0 L406.5 1913.4 L409.5 1912.8 L412.4 1912.2 L415.4 1911.6 L418.4 1911.0 L421.3 1910.4 L424.3 1909.8 L427.3 1909.2 L430.2 1908.7 L433.2 1908.1 L436.2 1907.5 L439.2 1907.0 L442.1 1906.4 L445.1 1905.9 L448.1 1905.4 L451.0 1904.8 L454.0 1904.3 L457.0 1903.8 L460.0 1903.3 L462.9 1902.8 L465.9 1902.3 L468.9 1901.8 L471.9 1901.3 L474.8 1900.8 L477.8 1900.3 L480.8 1899.8 L483.8 1899.4 L486.7 1898.9 L489.7 1898.4 L492.7 1898.0 L495.7 1897.5 L498.7 1897.1 L501.6 1896.7 L504.6 1896.2 L507.6 1895.8 L510.6 1895.4 L513.6 1895.0 L516.5 1894.6 L519.5 1894.2 L522.5 1893.8 L525.5 1893.4 L528.5 1893.0 L531.5 1892.6 L534.4 1892.2 L537.4 1891.9 L540.4 1891.5 L543.4 1891.1 L546.4 1890.8 L549.4 1890.4 L552.3 1890.1 L555.3 1889.7 L558.3 1889.4 L561.3 1889.1 L564.3 1888.7 L567.3 1888.4 L570.3 1888.1 L573.2 1887.8 L576.2 1887.5 L579.2 1887.2 L582.2 1886.9 L585.2 1886.6 L588.2 1886.3 L591.2 1886.0 L594.2 1885.7 L597.2 1885.5 L600.1 1885.2 L603.1 1884.9 L606.1 1884.7 L609.1 1884.4 L612.1 1884.2 L615.1 1883.9 L618.1 1883.7 L621.1 1883.5 L624.1 1883.2 L627.1 1883.0 L630.1 1882.8 L633.0 1882.6 L636.0 1882.4 L639.0 1882.1 L642.0 1881.9 L645.0 1881.7 L648.0 1881.6 L651.0 1881.4 L654.0 1881.2 L657.0 1881.0 L660.0 1880.8 L663.0 1880.6 L666.0 1880.5 L669.0 1880.3 L672.0 1880.2 L675.0 1880.0 L678.0 1879.8 L681.0 1879.7 L684.0 1879.6 L687.0 1879.4 L690.0 1879.3 L692.9 1879.2 L695.9 1879.0 L698.9 1878.9 L701.9 1878.8 L704.9 1878.7 L707.9 1878.6 L710.9 1878.5 L713.9 1878.4 L716.9 1878.3 L719.9 1878.2 L722.9 1878.1 L725.9 1878.0 L728.9 1877.9 L731.9 1877.8 L734.9 1877.8 L737.9 1877.7 L740.9 1877.6 L743.9 1877.6 L746.9 1877.5 L749.9 1877.4 L752.9 1877.4 L755.9 1877.3 L758.9 1877.3 L761.9 1877.3 L764.9 1877.2 L767.9 1877.2 L770.9 1877.2 L773.9 1877.1 L776.9 1877.1 L779.9 1877.1 L782.9 1877.1 L785.9 1877.1 L788.9 1877.1 L791.9 1877.1 L795.0 1877.0 L798.0 1877.1 L801.0 1877.1 L804.0 1877.1 L807.0 1877.1 L810.0 1877.1 L813.0 1877.1 L816.0 1877.1 L819.0 1877.2 L822.0 1877.2 L825.0 1877.2 L828.0 1877.3 L831.0 1877.3 L834.0 1877.3 L837.0 1877.4 L840.0 1877.4 L843.0 1877.5 L846.0 1877.5 L849.0 1877.6 L852.0 1877.7 L855.0 1877.7 L858.0 1877.8 L861.0 1877.9 L864.0 1877.9 L867.0 1878.0 L870.0 1878.1 L873.0 1878.2 L876.1 1878.3 L879.1 1878.3 L882.1 1878.4 L885.1 1878.5 L888.1 1878.6 L891.1 1878.7 L894.1 1878.8 L897.1 1878.9 L900.1 1879.0 L903.1 1879.1 L906.1 1879.3 L909.1 1879.4 L912.1 1879.5 L915.1 1879.6 L918.1 1879.7 L921.1 1879.9 L924.1 1880.0 L927.1 1880.1 L930.1 1880.3 L933.1 1880.4 L936.2 1880.5 L939.2 1880.7 L942.2 1880.8 L945.2 1881.0 L948.2 1881.1 L951.2 1881.3 L954.2 1881.4 L957.2 1881.6 L960.2 1881.7 L963.2 1881.9 L966.2 1882.1 L969.2 1882.2 L972.2 1882.4 L975.2 1882.6 L978.2 1882.7 L981.2 1882.9 L984.2 1883.1 L987.2 1883.3 L990.2 1883.5 L993.2 1883.6 L996.3 1883.8 L999.3 1884.0 L1002.3 1884.2 L1005.3 1884.4 L1008.3 1884.6 L1011.3 1884.8 L1014.3 1885.0 L1017.3 1885.2 L1020.3 1885.4 L1023.3 1885.6 L1026.3 1885.8 L1029.3 1886.0 L1032.3 1886.2 L1035.3 1886.4 L1038.3 1886.6 L1041.3 1886.8 L1044.3 1887.1 L1047.3 1887.3 L1050.3 1887.5 L1053.3 1887.7 L1056.3 1888.0 L1059.3 1888.2 L1062.3 1888.4 L1065.3 1888.6 L1068.3 1888.9 L1071.3 1889.1 L1074.3 1889.3 L1077.4 1889.6 L1080.4 1889.8 L1083.4 1890.0 L1086.4 1890.3 L1089.4 1890.5 L1092.4 1890.8 L1095.4 1891.0 L1098.4 1891.3 L1101.4 1891.5 L1104.4 1891.8 L1107.4 1892.0 L1110.4 1892.3 L1113.4 1892.5 L1116.4 1892.8 L1119.4 1893.0 L1122.4 1893.3 L1125.4 1893.5 L1128.4 1893.8 L1131.4 1894.1 L1134.4 1894.3 L1137.4 1894.6 L1140.4 1894.9 L1143.4 1895.1 L1146.4 1895.4 L1149.4 1895.7 L1152.4 1895.9 L1155.4 1896.2 L1158.4 1896.5 L1161.4 1896.8 L1164.4 1897.0 L1167.4 1897.3 L1170.4 1897.6 L1173.4 1897.9 L1176.4 1898.2 L1179.4 1898.5 L1182.4 1898.7 L1185.4 1899.0 L1188.4 1899.3 L1191.4 1899.6 L1194.4 1899.9 L1197.4 1900.2 L1200.3 1900.5 L1203.3 1900.8 L1206.3 1901.1 L1209.3 1901.4 L1212.3 1901.7 L1215.3 1902.0 L1218.3 1902.3 L1221.3 1902.6 L1224.3 1902.9 L1227.3 1903.2 L1230.3 1903.5 L1233.3 1903.8 L1236.3 1904.1 L1239.3 1904.4 L1242.3 1904.7 L1245.3 1905.0 L1248.3 1905.3 L1251.3 1905.6 L1254.3 1905.9 L1257.3 1906.2 L1260.3 1906.6 L1263.3 1906.9 L1266.3 1907.2 L1269.3 1907.5 L1272.3 1907.8 L1275.3 1908.2 L1278.3 1908.5 L1281.3 1908.8 L1284.2 1909.1 L1287.2 1909.4 L1290.2 1909.8 L1293.2 1910.1 L1296.2 1910.4 L1299.2 1910.8 L1302.2 1911.1 L1305.2 1911.4 L1308.2 1911.7 L1311.2 1912.1 L1314.2 1912.4 L1317.2 1912.7 L1320.2 1913.1 L1323.2 1913.4 L1326.2 1913.7 L1329.2 1914.1 L1332.2 1914.4 L1335.2 1914.8 L1338.1 1915.1 L1341.1 1915.4 L1344.1 1915.8 L1347.1 1916.1 L1350.1 1916.5 L1353.1 1916.8 L1356.1 1917.2 L1359.1 1917.5 L1362.1 1917.8 L1365.1 1918.2 L1368.1 1918.5 L1371.1 1918.9 L1374.1 1919.2 L1377.1 1919.6 L1380.0 1919.9 L1383.0 1920.3 L1386.0 1920.6 L1389.0 1921.0 L1392.0 1921.3 L1395.0 1921.7 L1398.0 1922.1 L1401.0 1922.4 L1404.0 1922.8 L1407.0 1923.1 L1410.0 1923.5 L1413.0 1923.8 L1416.0 1924.2 L1418.9 1924.6 L1421.9 1924.9 L1424.9 1925.3 L1427.9 1925.6 L1430.9 1926.0 L1433.9 1926.4 L1436.9 1926.7 L1439.9 1927.1 L1442.9 1927.4 L1445.9 1927.8 L1448.9 1928.2 L1451.8 1928.5 L1454.8 1928.9 L1457.8 1929.3 L1460.8 1929.6 L1463.8 1930.0 L1466.8 1930.4 L1469.8 1930.7 L1472.8 1931.1 L1475.8 1931.5 L1478.8 1931.8 L1481.8 1932.2 L1484.7 1932.6 L1487.7 1933.0 L1490.7 1933.3 L1493.7 1933.7 L1496.7 1934.1 L1499.7 1934.4 L1502.7 1934.8 L1505.7 1935.2 L1508.7 1935.6 L1511.7 1935.9 L1514.6 1936.3 L1517.6 1936.7 L1520.6 1937.1 L1523.6 1937.4 L1526.6 1937.8 L1529.6 1938.2 L1532.6 1938.6 L1535.6 1938.9 L1538.6 1939.3 L1541.5 1939.7 L1544.5 1940.1 L1547.5 1940.5 L1550.5 1940.8 L1553.5 1941.2 L1556.5 1941.6 L1559.5 1942.0 L1562.5 1942.3 L1565.5 1942.7 L1568.4 1943.1 L1571.4 1943.5 L1574.4 1943.9 L1577.4 1944.2 L1580.4 1944.6 L1583.4 1945.0 L1586.4 1945.4 L1589.4 1945.8 L1592.4 1946.1 L1595.3 1946.5 L1598.3 1946.9 L1601.3 1947.3 L1604.3 1947.7 L1607.3 1948.0 L1610.3 1948.4 L1613.3 1948.8 L1616.3 1949.2 L1619.3 1949.6 L1622.2 1949.9 L1625.2 1950.3 L1628.2 1950.7 L1631.2 1951.1 L1634.2 1951.5 L1637.2 1951.9 L1640.2 1952.2 L1643.2 1952.6 L1646.1 1953.0 L1649.1 1953.4 L1652.1 1953.8 L1655.1 1954.1 L1658.1 1954.5 L1661.1 1954.9 L1664.1 1955.3 L1667.1 1955.7 L1670.0 1956.1 L1673.0 1956.4 L1676.0 1956.8 L1679.0 1957.2 L1682.0 1957.6 L1685.0 1958.0 L1688.0 1958.3 L1691.0 1958.7 L1693.9 1959.1 L1696.9 1959.5 L1699.9 1959.9 L1702.9 1960.2 L1705.9 1960.6 L1708.9 1961.0 L1711.9 1961.4 L1714.9 1961.7 L1717.8 1962.1 L1720.8 1962.5 L1723.8 1962.9 L1726.8 1963.3 L1729.8 1963.6 L1732.8 1964.0 L1735.8 1964.4 L1738.8 1964.8 L1741.7 1965.1 L1744.7 1965.5 L1747.7 1965.9 L1750.7 1966.3 L1753.7 1966.6 L1756.7 1967.0 L1759.7 1967.4 L1762.7 1967.8 L1765.6 1968.1 L1768.6 1968.5 L1771.6 1968.9 L1774.6 1969.3 L1777.6 1969.6 L1780.6 1970.0 L1783.6 1970.4 L1786.6 1970.8 L1789.5 1971.1 L1792.5 1971.5 L1795.5 1971.9 L1798.5 1972.2 L1801.5 1972.6 L1804.5 1973.0 L1807.5 1973.3 L1810.5 1973.7 L1813.4 1974.1 L1816.4 1974.4 L1819.4 1974.8 L1822.4 1975.2 L1825.4 1975.5 L1828.4 1975.9 L1831.4 1976.3 L1834.3 1976.6 L1837.3 1977.0 L1840.3 1977.4 L1843.3 1977.7 L1846.3 1978.1 L1849.3 1978.4 L1852.3 1978.8 L1855.3 1979.2 L1858.2 1979.5 L1861.2 1979.9 L1864.2 1980.2 L1867.2 1980.6 L1870.2 1981.0 L1873.2 1981.3 L1876.2 1981.7 L1879.2 1982.0 L1882.1 1982.4 L1885.1 1982.7 L1888.1 1983.1 L1891.1 1983.4 L1894.1 1983.8 L1897.1 1984.1 L1900.1 1984.5 L1903.1 1984.8 L1906.0 1985.2 L1909.0 1985.5 L1912.0 1985.9 L1915.0 1986.2 L1918.0 1986.6 L1921.0 1986.9 L1924.0 1987.3 L1927.0 1987.6 L1929.9 1987.9 L1932.9 1988.3 L1935.9 1988.6 L1938.9 1989.0 L1941.9 1989.3 L1944.9 1989.6 L1947.9 1990.0 L1950.9 1990.3 L1953.8 1990.6 L1956.8 1991.0 L1959.8 1991.3 L1962.8 1991.6 L1965.8 1992.0 L1968.8 1992.3 L1971.8 1992.6 L1974.8 1993.0 L1977.7 1993.3 L1980.7 1993.6 L1983.7 1993.9 L1986.7 1994.3 L1989.7 1994.6 L1992.7 1994.9 L1995.7 1995.2 L1998.7 1995.6 L2001.6 1995.9 L2004.6 1996.2 L2007.6 1996.5 L2010.6 1996.8 L2013.6 1997.2 L2016.6 1997.5 L2019.6 1997.8 L2022.6 1998.1 L2025.5 1998.4 L2028.5 1998.7 L2031.5 1999.0 L2034.5 1999.3 L2037.5 1999.6 L2040.5 2000.0 L2043.5 2000.3 L2046.5 2000.6 L2049.5 2000.9 L2052.4 2001.2 L2055.4 2001.5 L2058.4 2001.8 L2061.4 2002.1 L2064.4 2002.4 L2067.4 2002.7 L2070.4 2003.0 L2073.4 2003.3 L2076.4 2003.5 L2079.3 2003.8 L2082.3 2004.1 L2085.3 2004.4 L2088.3 2004.7 L2091.3 2005.0" stroke="#000000" stroke-width="5"/>
<path d="M388.7 1918.5 L391.7 1918.7 L394.7 1919.0 L397.7 1919.2 L400.7 1919.4 L403.7 1919.6 L406.7 1919.9 L409.7 1920.1 L412.7 1920.3 L415.7 1920.5 L418.7 1920.7 L421.7 1921.0 L424.7 1921.2 L427.7 1921.4 L430.7 1921.6 L433.7 1921.8 L436.7 1922.0 L439.7 1922.3 L442.7 1922.5 L445.8 1922.7 L448.8 1922.9 L451.8 1923.1 L454.8 1923.3 L457.8 1923.5 L460.8 1923.7 L463.8 1924.0 L466.8 1924.2 L469.8 1924.4 L472.8 1924.6 L475.8 1924.8 L478.8 1925.0 L481.8 1925.2 L484.8 1925.4 L487.8 1925.6 L490.8 1925.8 L493.8 1926.0 L496.8 1926.2 L499.8 1926.4 L502.8 1926.6 L505.8 1926.8 L508.8 1927.0 L511.8 1927.2 L514.8 1927.4 L517.8 1927.6 L520.8 1927.8 L523.8 1928.0 L526.8 1928.2 L529.9 1928.4 L532.9 1928.6 L535.9 1928.8 L538.9 1929.0 L541.9 1929.2 L544.9 1929.4 L547.9 1929.5 L550.9 1929.7 L553.9 1929.9 L556.9 1930.1 L559.9 1930.3 L562.9 1930.5 L565.9 1930.7 L568.9 1930.9 L571.9 1931.0 L574.9 1931.2 L577.9 1931.4 L580.9 1931.6 L583.9 1931.8 L586.9 1932.0 L589.9 1932.1 L592.9 1932.3 L596.0 1932.5 L599.0 1932.7 L602.0 1932.9 L605.0 1933.0 L608.0 1933.2 L611.0 1933.4 L614.0 1933.6 L617.0 1933.8 L620.0 1933.9 L623.0 1934.1 L626.0 1934.3 L629.0 1934.4 L632.0 1934.6 L635.0 1934.8 L638.0 1935.0 L641.0 1935.1 L644.0 1935.3 L647.0 1935.5 L650.0 1935.6 L653.1 1935.8 L656.1 1936.0 L659.1 1936.1 L662.1 1936.3 L665.1 1936.5 L668.1 1936.6 L671.1 1936.8 L674.1 1937.0 L677.1 1937.1 L680.1 1937.3 L683.1 1937.5 L686.1 1937.6 L689.1 1937.8 L692.1 1938.0 L695.1 1938.1 L698.1 1938.3 L701.1 1938.4 L704.1 1938.6 L707.2 1938.7 L710.2 1938.9 L713.2 1939.1 L716.2 1939.2 L719.2 1939.4 L722.2 1939.5 L725.2 1939.7 L728.2 1939.8 L731.2 1940.0 L734.2 1940.1 L737.2 1940.3 L740.2 1940.4 L743.2 1940.6 L746.2 1940.8 L749.2 1940.9 L752.2 1941.1 L755.3 1941.2 L758.3 1941.3 L761.3 1941.5 L764.3 1941.6 L767.3 1941.8 L770.3 1941.9 L773.3 1942.1 L776.3 1942.2 L779.3 1942.4 L782.3 1942.5 L785.3 1942.7 L788.3 1942.8 L791.3 1942.9 L794.3 1943.1 L797.3 1943.2 L800.4 1943.4 L803.4 1943.5 L806.4 1943.7 L809.4 1943.8 L812.4 1943.9 L815.4 1944.1 L818.4 1944.2 L821.4 1944.4 L824.4 1944.5 L827.4 1944.6 L830.4 1944.8 L833.4 1944.9 L836.4 1945.0 L839.4 1945.2 L842.4 1945.3 L845.5 1945.4 L848.5 1945.6 L851.5 1945.7 L854.5 1945.8 L857.5 1946.0 L860.5 1946.1 L863.5 1946.2 L866.5 1946.4 L869.5 1946.5 L872.5 1946.6 L875.5 1946.7 L878.5 1946.9 L881.5 1947.0 L884.5 1947.1 L887.6 1947.3 L890.6 1947.4 L893.6 1947.5 L896.6 1947.6 L899.6 1947.8 L902.6 1947.9 L905.6 1948.0 L908.6 1948.1 L911.6 1948.3 L914.6 1948.4 L917.6 1948.5 L920.6 1948.6 L923.6 1948.8 L926.7 1948.9 L929.7 1949.0 L932.7 1949.1 L935.7 1949.2 L938.7 1949.4 L941.7 1949.5 L944.7 1949.6 L947.7 1949.7 L950.7 1949.8 L953.7 1949.9 L956.7 1950.1 L959.7 1950.2 L962.8 1950.3 L965.8 1950.4 L968.8 1950.5 L971.8 1950.6 L974.8 1950.8 L977.8 1950.9 L980.8 1951.0 L983.8 1951.1 L986.8 1951.2 L989.8 1951.3 L992.8 1951.4 L995.8 1951.5 L998.8 1951.7 L1001.9 1951.8 L1004.9 1951.9 L1007.9 1952.0 L1010.9 1952.1 L1013.9 1952.2 L1016.9 1952.3 L1019.9 1952.4 L1022.9 1952.5 L1025.9 1952.6 L1028.9 1952.8 L1031.9 1952.9 L1034.9 1953.0 L1038.0 1953.1 L1041.0 1953.2 L1044.0 1953.3 L1047.0 1953.4 L1050.0 1953.5 L1053.0 1953.6 L1056.0 1953.7 L1059.0 1953.8 L1062.0 1953.9 L1065.0 1954.0 L1068.0 1954.1 L1071.1 1954.2 L1074.1 1954.3 L1077.1 1954.4 L1080.1 1954.5 L1083.1 1954.6 L1086.1 1954.7 L1089.1 1954.8 L1092.1 1954.9 L1095.1 1955.0 L1098.1 1955.1 L1101.1 1955.2 L1104.1 1955.3 L1107.2 1955.4 L1110.2 1955.5 L1113.2 1955.6 L1116.2 1955.7 L1119.2 1955.8 L1122.2 1955.9 L1125.2 1956.0 L1128.2 1956.1 L1131.2 1956.2 L1134.2 1956.3 L1137.2 1956.4 L1140.3 1956.5 L1143.3 1956.6 L1146.3 1956.7 L1149.3 1956.8 L1152.3 1956.9 L1155.3 1957.0 L1158.3 1957.0 L1161.3 1957.1 L1164.3 1957.2 L1167.3 1957.3 L1170.3 1957.4 L1173.4 1957.5 L1176.4 1957.6 L1179.4 1957.7 L1182.4 1957.8 L1185.4 1957.9 L1188.4 1958.0 L1191.4 1958.0 L1194.4 1958.1 L1197.4 1958.2 L1200.4 1958.3 L1203.4 1958.4 L1206.5 1958.5 L1209.5 1958.6 L1212.5 1958.7 L1215.5 1958.8 L1218.5 1958.8 L1221.5 1958.9 L1224.5 1959.0 L1227.5 1959.1 L1230.5 1959.2 L1233.5 1959.3 L1236.5 1959.4 L1239.6 1959.4 L1242.6 1959.5 L1245.6 1959.6 L1248.6 1959.7 L1251.6 1959.8 L1254.6 1959.9 L1257.6 1960.0 L1260.6 1960.0 L1263.6 1960.1 L1266.6 1960.2 L1269.7 1960.3 L1272.7 1960.4 L1275.7 1960.5 L1278.7 1960.5 L1281.7 1960.6 L1284.7 1960.7 L1287.7 1960.8 L1290.7 1960.9 L1293.7 1960.9 L1296.7 1961.0 L1299.7 1961.1 L1302.8 1961.2 L1305.8 1961.3 L1308.8 1961.3 L1311.8 1961.4 L1314.8 1961.5 L1317.8 1961.6 L1320.8 1961.7 L1323.8 1961.7 L1326.8 1961.8 L1329.8 1961.9 L1332.9 1962.0 L1335.9 1962.1 L1338.9 1962.1 L1341.9 1962.2 L1344.9 1962.3 L1347.9 1962.4 L1350.9 1962.4 L1353.9 1962.5 L1356.9 1962.6 L1359.9 1962.7 L1363.0 1962.7 L1366.0 1962.8 L1369.0 1962.9 L1372.0 1963.0 L1375.0 1963.1 L1378.0 1963.1 L1381.0 1963.2 L1384.0 1963.3 L1387.0 1963.4 L1390.0 1963.4 L1393.1 1963.5 L1396.1 1963.6 L1399.1 1963.6 L1402.1 1963.7 L1405.1 1963.8 L1408.1 1963.9 L1411.1 1963.9 L1414.1 1964.0 L1417.1 1964.1 L1420.1 1964.2 L1423.2 1964.2 L1426.2 1964.3 L1429.2 1964.4 L1432.2 1964.5 L1435.2 1964.5 L1438.2 1964.6 L1441.2 1964.7 L1444.2 1964.7 L1447.2 1964.8 L1450.2 1964.9 L1453.2 1965.0 L1456.3 1965.0 L1459.3 1965.1 L1462.3 1965.2 L1465.3 1965.2 L1468.3 1965.3 L1471.3 1965.4 L1474.3 1965.5 L1477.3 1965.5 L1480.3 1965.6 L1483.3 1965.7 L1486.4 1965.7 L1489.4 1965.8 L1492.4 1965.9 L1495.4 1966.0 L1498.4 1966.0 L1501.4 1966.1 L1504.4 1966.2 L1507.4 1966.2 L1510.4 1966.3 L1513.4 1966.4 L1516.5 1966.4 L1519.5 1966.5 L1522.5 1966.6 L1525.5 1966.6 L1528.5 1966.7 L1531.5 1966.8 L1534.5 1966.9 L1537.5 1966.9 L1540.5 1967.0 L1543.5 1967.1 L1546.6 1967.1 L1549.6 1967.2 L1552.6 1967.3 L1555.6 1967.3 L1558.6 1967.4 L1561.6 1967.5 L1564.6 1967.5 L1567.6 1967.6 L1570.6 1967.7 L1573.7 1967.7 L1576.7 1967.8 L1579.7 1967.9 L1582.7 1967.9 L1585.7 1968.0 L1588.7 1968.1 L1591.7 1968.1 L1594.7 1968.2 L1597.7 1968.3 L1600.7 1968.3 L1603.8 1968.4 L1606.8 1968.5 L1609.8 1968.5 L1612.8 1968.6 L1615.8 1968.7 L1618.8 1968.8 L1621.8 1968.8 L1624.8 1968.9 L1627.8 1969.0 L1630.8 1969.0 L1633.9 1969.1 L1636.9 1969.2 L1639.9 1969.2 L1642.9 1969.3 L1645.9 1969.4 L1648.9 1969.4 L1651.9 1969.5 L1654.9 1969.6 L1657.9 1969.6 L1660.9 1969.7 L1664.0 1969.8 L1667.0 1969.8 L1670.0 1969.9 L1673.0 1970.0 L1676.0 1970.0 L1679.0 1970.1 L1682.0 1970.2 L1685.0 1970.2 L1688.0 1970.3 L1691.0 1970.4 L1694.1 1970.4 L1697.1 1970.5 L1700.1 1970.6 L1703.1 1970.6 L1706.1 1970.7 L1709.1 1970.8 L1712.1 1970.8 L1715.1 1970.9 L1718.1 1971.0 L1721.1 1971.0 L1724.2 1971.1 L1727.2 1971.2 L1730.2 1971.2 L1733.2 1971.3 L1736.2 1971.4 L1739.2 1971.4 L1742.2 1971.5 L1745.2 1971.6 L1748.2 1971.6 L1751.2 1971.7 L1754.3 1971.8 L1757.3 1971.8 L1760.3 1971.9 L1763.3 1972.0 L1766.3 1972.0 L1769.3 1972.1 L1772.3 1972.2 L1775.3 1972.2 L1778.3 1972.3 L1781.3 1972.4 L1784.3 1972.4 L1787.4 1972.5 L1790.4 1972.6 L1793.4 1972.6 L1796.4 1972.7 L1799.4 1972.8 L1802.4 1972.8 L1805.4 1972.9 L1808.4 1973.0 L1811.4 1973.1 L1814.4 1973.1 L1817.5 1973.2 L1820.5 1973.3 L1823.5 1973.3 L1826.5 1973.4 L1829.5 1973.5 L1832.5 1973.5 L1835.5 1973.6 L1838.5 1973.7 L1841.5 1973.7 L1844.5 1973.8 L1847.6 1973.9 L1850.6 1974.0 L1853.6 1974.0 L1856.6 1974.1 L1859.6 1974.2 L1862.6 1974.2 L1865.6 1974.3 L1868.6 1974.4 L1871.6 1974.4 L1874.6 1974.5 L1877.6 1974.6 L1880.7 1974.7 L1883.7 1974.7 L1886.7 1974.8 L1889.7 1974.9 L1892.7 1974.9 L1895.7 1975.0 L1898.7 1975.1 L1901.7 1975.2 L1904.7 1975.2 L1907.7 1975.3 L1910.8 1975.4 L1913.8 1975.4 L1916.8 1975.5 L1919.8 1975.6 L1922.8 1975.7 L1925.8 1975.7 L1928.8 1975.8 L1931.8 1975.9 L1934.8 1976.0 L1937.8 1976.0 L1940.8 1976.1 L1943.9 1976.2 L1946.9 1976.2 L1949.9 1976.3 L1952.9 1976.4 L1955.9 1976.5 L1958.9 1976.5 L1961.9 1976.6 L1964.9 1976.7 L1967.9 1976.8 L1970.9 1976.8 L1974.0 1976.9 L1977.0 1977.0 L1980.0 1977.1 L1983.0 1977.1 L1986.0 1977.2 L1989.0 1977.3 L1992.0 1977.4 L1995.0 1977.4 L1998.0 1977.5 L2001.0 1977.6 L2004.0 1977.7 L2007.1 1977.8 L2010.1 1977.8 L2013.1 1977.9 L2016.1 1978.0 L2019.1 1978.1 L2022.1 1978.1 L2025.1 1978.2 L2028.1 1978.3 L2031.1 1978.4 L2034.1 1978.5 L2037.1 1978.5 L2040.2 1978.6 L2043.2 1978.7 L2046.2 1978.8 L2049.2 1978.9 L2052.2 1978.9 L2055.2 1979.0 L2058.2 1979.1 L2061.2 1979.2 L2064.2 1979.3 L2067.2 1979.3 L2070.2 1979.4 L2073.2 1979.5 L2076.3 1979.6 L2079.3 1979.7 L2082.3 1979.8 L2085.3 1979.8 L2088.3 1979.9 L2091.3 1980.0" stroke="#ff0000" stroke-width="5.8"/>
<path d="M388.7 1918.5 L388.9 1921.5 L389.2 1924.6 L389.4 1927.6 L389.6 1930.6 L389.9 1933.6 L390.1 1936.6 L390.4 1939.6 L390.7 1942.7 L391.0 1945.7 L391.2 1948.7 L391.5 1951.7 L391.8 1954.7 L392.1 1957.7 L392.4 1960.7 L392.8 1963.7 L393.1 1966.7 L393.4 1969.7 L393.8 1972.7 L394.1 1975.7 L394.4 1978.6 L394.8 1981.6 L395.2 1984.6 L395.5 1987.6 L395.9 1990.6 L396.3 1993.6 L396.6 1996.5 L397.0 1999.5 L397.4 2002.5 L397.8 2005.5 L398.2 2008.4 L398.6 2011.4 L399.1 2014.4 L399.5 2017.3 L399.9 2020.3 L400.3 2023.3 L400.8 2026.2 L401.2 2029.2 L401.7 2032.2 L402.1 2035.1 L402.6 2038.1 L403.0 2041.0 L403.5 2044.0 L404.0 2046.9 L404.4 2049.9 L404.9 2052.9 L405.4 2055.8 L405.9 2058.8 L406.4 2061.7 L406.9 2064.7 L407.4 2067.6 L407.9 2070.6 L408.4 2073.5 L408.9 2076.5 L409.4 2079.4 L409.9 2082.3 L410.4 2085.3 L411.0 2088.2 L411.5 2091.2 L412.0 2094.1 L412.6 2097.1 L413.1 2100.0 L413.7 2103.0 L414.2 2105.9 L414.8 2108.8 L415.3 2111.8 L415.9 2114.7 L416.4 2117.7 L417.0 2120.6 L417.6 2123.5 L418.2 2126.5 L418.7 2129.4 L419.3 2132.4 L419.9 2135.3 L420.5 2138.2 L421.1 2141.2 L421.6 2144.1 L422.2 2147.1 L422.8 2150.0 L423.4 2152.9 L424.0 2155.9 L424.6 2158.8 L425.2 2161.8 L425.8 2164.7 L426.4 2167.6 L427.1 2170.6 L427.7 2173.5 L428.3 2176.5 L428.9 2179.4 L429.5 2182.4 L430.1 2185.3 L430.8 2188.3 L431.4 2191.2 L432.0 2194.1 L432.6 2197.1 L433.3 2200.0 L433.9 2203.0 L434.5 2205.9 L435.2 2208.9 L435.8 2211.8 L436.4 2214.8 L437.1 2217.7 L437.7 2220.7 L438.3 2223.6 L439.0 2226.6 L439.6 2229.6 L440.3 2232.5 L440.9 2235.5 L441.6 2238.4 L442.2 2241.4 L442.9 2244.3 L443.6 2247.3 L444.2 2250.2 L444.9 2253.2 L445.6 2256.2 L446.3 2259.1 L446.9 2262.1 L447.6 2265.0 L448.3 2267.9 L449.0 2270.9 L449.8 2273.8 L450.5 2276.8 L451.2 2279.7 L452.0 2282.6 L452.7 2285.6 L453.5 2288.5 L454.2 2291.4 L455.0 2294.3 L455.8 2297.3 L456.6 2300.2 L457.4 2303.1 L458.2 2306.0 L459.1 2308.9 L459.9 2311.8 L460.8 2314.7 L461.6 2317.6 L462.5 2320.4 L463.4 2323.3 L464.3 2326.2 L465.2 2329.0 L466.2 2331.9 L467.1 2334.8 L468.1 2337.6 L469.1 2340.4 L470.1 2343.3 L471.1 2346.1 L472.1 2348.9 L473.2 2351.7 L474.2 2354.5 L475.3 2357.3 L476.4 2360.1 L477.5 2362.9 L478.7 2365.7 L479.8 2368.4 L481.0 2371.2 L482.2 2373.9 L483.4 2376.7 L484.6 2379.4 L485.9 2382.1 L487.2 2384.8 L488.5 2387.5 L489.8 2390.2 L491.1 2392.8 L492.5 2395.5 L493.9 2398.1 L495.3 2400.7 L496.7 2403.3 L498.2 2405.9 L499.7 2408.5 L501.2 2411.1 L502.7 2413.6 L504.3 2416.1 L505.9 2418.7 L507.5 2421.1 L509.1 2423.6 L510.8 2426.1 L512.5 2428.5 L514.2 2430.9 L515.9 2433.3 L517.7 2435.7 L519.5 2438.0 L521.4 2440.4 L523.2 2442.7 L525.1 2445.0 L527.1 2447.2 L529.0 2449.5 L531.0 2451.7 L533.0 2453.9 L535.0 2456.1 L537.1 2458.2 L539.2 2460.4 L541.3 2462.5 L543.4 2464.6 L545.6 2466.7 L547.7 2468.7 L549.9 2470.8 L552.1 2472.8 L554.3 2474.8 L556.6 2476.8 L558.8 2478.8 L561.1 2480.8 L563.3 2482.8 L565.6 2484.7 L567.9 2486.7 L570.2 2488.6 L572.5 2490.5 L574.9 2492.5 L577.2 2494.4 L579.5 2496.3 L581.9 2498.1 L584.2 2500.0 L586.6 2501.9 L588.9 2503.7 L591.3 2505.6 L593.7 2507.4 L596.0 2509.3 L598.4 2511.1 L600.8 2512.9 L603.2 2514.7 L605.6 2516.5 L608.0 2518.3 L610.4 2520.1 L612.9 2521.9 L615.3 2523.7 L617.7 2525.5 L620.1 2527.2 L622.6 2529.0 L625.0 2530.8 L627.4 2532.5 L629.9 2534.3 L632.3 2536.0 L634.8 2537.8 L637.2 2539.5 L639.7 2541.2 L642.2 2543.0 L644.6 2544.7 L647.1 2546.4 L649.6 2548.1 L652.0 2549.9 L654.5 2551.6 L657.0 2553.3 L659.4 2555.0 L661.9 2556.7 L664.4 2558.4 L666.9 2560.1 L669.3 2561.9 L671.8 2563.6 L674.3 2565.3 L676.8 2567.0 L679.2 2568.7 L681.7 2570.4 L684.2 2572.1 L686.6 2573.8 L689.1 2575.5 L691.6 2577.3 L694.1 2579.0 L696.5 2580.7 L699.0 2582.4 L701.5 2584.1 L703.9 2585.9 L706.4 2587.6 L708.9 2589.3 L711.3 2591.0 L713.8 2592.8 L716.2 2594.5 L718.7 2596.2 L721.1 2598.0 L723.6 2599.7 L726.1 2601.4 L728.5 2603.2 L731.0 2604.9 L733.4 2606.7 L735.9 2608.4 L738.3 2610.1 L740.8 2611.9 L743.2 2613.6 L745.7 2615.4 L748.1 2617.1 L750.5 2618.9 L753.0 2620.6 L755.4 2622.3 L757.9 2624.1 L760.3 2625.8 L762.8 2627.6 L765.2 2629.3 L767.7 2631.1 L770.1 2632.8 L772.6 2634.6 L775.0 2636.3 L777.4 2638.0 L779.9 2639.8 L782.3 2641.5 L784.8 2643.3 L787.2 2645.0 L789.7 2646.7 L792.1 2648.5 L794.6 2650.2 L797.0 2651.9 L799.5 2653.7 L801.9 2655.4 L804.4 2657.1 L806.8 2658.9 L809.3 2660.6 L811.7 2662.3 L814.2 2664.1 L816.7 2665.8 L819.1 2667.5 L821.6 2669.2 L824.0 2670.9 L826.5 2672.6 L829.0 2674.4 L831.4 2676.1 L833.9 2677.8 L836.4 2679.5 L838.8 2681.2 L841.3 2682.9 L843.8 2684.6 L846.2 2686.3 L848.7 2688.0 L851.2 2689.6 L853.7 2691.3 L856.2 2693.0 L858.6 2694.7 L861.1 2696.4 L863.6 2698.0 L866.1 2699.7 L868.6 2701.4 L871.1 2703.0 L873.6 2704.7 L876.1 2706.3 L878.6 2708.0 L881.1 2709.6 L883.6 2711.3 L886.1 2712.9 L888.6 2714.6 L891.1 2716.2 L893.7 2717.8 L896.2 2719.4 L898.7 2721.0 L901.2 2722.7 L903.8 2724.3 L906.3 2725.9 L908.8 2727.5 L911.4 2729.1 L913.9 2730.6 L916.5 2732.2 L919.0 2733.8 L921.6 2735.4 L924.1 2736.9 L926.7 2738.5 L929.2 2740.0 L931.8 2741.6 L934.4 2743.1 L937.0 2744.7 L939.5 2746.2 L942.1 2747.7 L944.7 2749.3 L947.3 2750.8 L949.9 2752.3 L952.5 2753.8 L955.1 2755.3 L957.7 2756.8 L960.3 2758.3 L962.9 2759.7 L965.5 2761.2 L968.2 2762.7 L970.8 2764.1 L973.4 2765.6 L976.1 2767.0 L978.7 2768.5 L981.3 2769.9 L984.0 2771.3 L986.6 2772.7 L989.3 2774.2 L991.9 2775.6 L994.6 2777.0 L997.3 2778.4 L999.9 2779.8 L1002.6 2781.1 L1005.3 2782.5 L1008.0 2783.9 L1010.6 2785.3 L1013.3 2786.6 L1016.0 2788.0 L1018.7 2789.3 L1021.4 2790.7 L1024.1 2792.0 L1026.8 2793.3 L1029.5 2794.6 L1032.2 2796.0 L1034.9 2797.3 L1037.7 2798.6 L1040.4 2799.9 L1043.1 2801.2 L1045.8 2802.4 L1048.6 2803.7 L1051.3 2805.0 L1054.0 2806.3 L1056.8 2807.5 L1059.5 2808.8 L1062.3 2810.0 L1065.0 2811.3 L1067.7 2812.5 L1070.5 2813.7 L1073.3 2814.9 L1076.0 2816.2 L1078.8 2817.4 L1081.5 2818.6 L1084.3 2819.8 L1087.1 2821.0 L1089.9 2822.1 L1092.6 2823.3 L1095.4 2824.5 L1098.2 2825.7 L1101.0 2826.8 L1103.8 2828.0 L1106.5 2829.1 L1109.3 2830.3 L1112.1 2831.4 L1114.9 2832.5 L1117.7 2833.7 L1120.5 2834.8 L1123.3 2835.9 L1126.1 2837.0 L1128.9 2838.1 L1131.7 2839.2 L1134.6 2840.3 L1137.4 2841.4 L1140.2 2842.4 L1143.0 2843.5 L1145.8 2844.6 L1148.6 2845.6 L1151.5 2846.7 L1154.3 2847.7 L1157.1 2848.7 L1160.0 2849.8 L1162.8 2850.8 L1165.6 2851.8 L1168.5 2852.8 L1171.3 2853.8 L1174.1 2854.8 L1177.0 2855.8 L1179.8 2856.8 L1182.7 2857.8 L1185.5 2858.8 L1188.4 2859.8 L1191.2 2860.7 L1194.1 2861.7 L1196.9 2862.6 L1199.8 2863.6 L1202.6 2864.5 L1205.5 2865.5 L1208.4 2866.4 L1211.2 2867.3 L1214.1 2868.2 L1216.9 2869.1 L1219.8 2870.0 L1222.7 2870.9 L1225.5 2871.8 L1228.4 2872.7 L1231.3 2873.6 L1234.2 2874.5 L1237.0 2875.3 L1239.9 2876.2 L1242.8 2877.0 L1245.7 2877.9 L1248.5 2878.7 L1251.4 2879.6 L1254.3 2880.4 L1257.2 2881.2 L1260.1 2882.1 L1263.0 2882.9 L1265.9 2883.7 L1268.7 2884.5 L1271.6 2885.3 L1274.5 2886.1 L1277.4 2886.9 L1280.3 2887.7 L1283.2 2888.4 L1286.1 2889.2 L1289.0 2890.0 L1291.9 2890.7 L1294.8 2891.5 L1297.7 2892.2 L1300.6 2893.0 L1303.5 2893.7 L1306.4 2894.5 L1309.3 2895.2 L1312.2 2895.9 L1315.1 2896.6 L1318.1 2897.3 L1321.0 2898.0 L1323.9 2898.8 L1326.8 2899.4 L1329.7 2900.1 L1332.6 2900.8 L1335.6 2901.5 L1338.5 2902.2 L1341.4 2902.9 L1344.3 2903.5 L1347.2 2904.2 L1350.2 2904.8 L1353.1 2905.5 L1356.0 2906.1 L1358.9 2906.8 L1361.9 2907.4 L1364.8 2908.1 L1367.7 2908.7 L1370.7 2909.3 L1373.6 2909.9 L1376.5 2910.5 L1379.5 2911.2 L1382.4 2911.8 L1385.3 2912.4 L1388.3 2913.0 L1391.2 2913.5 L1394.1 2914.1 L1397.1 2914.7 L1400.0 2915.3 L1403.0 2915.9 L1405.9 2916.4 L1408.9 2917.0 L1411.8 2917.6 L1414.8 2918.1 L1417.7 2918.7 L1420.7 2919.2 L1423.6 2919.7 L1426.6 2920.3 L1429.5 2920.8 L1432.5 2921.3 L1435.4 2921.9 L1438.4 2922.4 L1441.3 2922.9 L1444.3 2923.4 L1447.2 2923.9 L1450.2 2924.4 L1453.2 2924.9 L1456.1 2925.4 L1459.1 2925.9 L1462.0 2926.4 L1465.0 2926.9 L1468.0 2927.4 L1470.9 2927.8 L1473.9 2928.3 L1476.9 2928.8 L1479.8 2929.3 L1482.8 2929.7 L1485.8 2930.2 L1488.7 2930.6 L1491.7 2931.1 L1494.7 2931.5 L1497.6 2932.0 L1500.6 2932.4 L1503.6 2932.8 L1506.6 2933.3 L1509.5 2933.7 L1512.5 2934.1 L1515.5 2934.5 L1518.5 2934.9 L1521.4 2935.3 L1524.4 2935.8 L1527.4 2936.2 L1530.4 2936.6 L1533.3 2937.0 L1536.3 2937.4 L1539.3 2937.7 L1542.3 2938.1 L1545.3 2938.5 L1548.3 2938.9 L1551.2 2939.3 L1554.2 2939.7 L1557.2 2940.0 L1560.2 2940.4 L1563.2 2940.8 L1566.2 2941.1 L1569.2 2941.5 L1572.1 2941.8 L1575.1 2942.2 L1578.1 2942.5 L1581.1 2942.9 L1584.1 2943.2 L1587.1 2943.6 L1590.1 2943.9 L1593.1 2944.2 L1596.1 2944.6 L1599.1 2944.9 L1602.0 2945.2 L1605.0 2945.5 L1608.0 2945.9 L1611.0 2946.2 L1614.0 2946.5 L1617.0 2946.8 L1620.0 2947.1 L1623.0 2947.4 L1626.0 2947.7 L1629.0 2948.0 L1632.0 2948.3 L1635.0 2948.6 L1638.0 2948.9 L1641.0 2949.2 L1644.0 2949.5 L1647.0 2949.8 L1650.0 2950.0 L1653.0 2950.3 L1656.0 2950.6 L1659.0 2950.9 L1662.0 2951.1 L1665.0 2951.4 L1668.0 2951.7 L1671.0 2951.9 L1674.0 2952.2 L1677.0 2952.5 L1680.0 2952.7 L1683.0 2953.0 L1686.0 2953.2 L1689.0 2953.5 L1692.0 2953.7 L1695.1 2954.0 L1698.1 2954.2 L1701.1 2954.5 L1704.1 2954.7 L1707.1 2955.0 L1710.1 2955.2 L1713.1 2955.4 L1716.1 2955.7 L1719.1 2955.9 L1722.1 2956.1 L1725.1 2956.3 L1728.1 2956.6 L1731.1 2956.8 L1734.1 2957.0 L1737.1 2957.2 L1740.2 2957.4 L1743.2 2957.7 L1746.2 2957.9 L1749.2 2958.1 L1752.2 2958.3 L1755.2 2958.5 L1758.2 2958.7 L1761.2 2958.9 L1764.2 2959.1 L1767.2 2959.3 L1770.3 2959.5 L1773.3 2959.7 L1776.3 2959.9 L1779.3 2960.1 L1782.3 2960.3 L1785.3 2960.5 L1788.3 2960.7 L1791.3 2960.9 L1794.3 2961.1 L1797.3 2961.3 L1800.4 2961.5 L1803.4 2961.6 L1806.4 2961.8 L1809.4 2962.0 L1812.4 2962.2 L1815.4 2962.4 L1818.4 2962.5 L1821.4 2962.7 L1824.4 2962.9 L1827.4 2963.1 L1830.5 2963.2 L1833.5 2963.4 L1836.5 2963.6 L1839.5 2963.8 L1842.5 2963.9 L1845.5 2964.1 L1848.5 2964.3 L1851.5 2964.4 L1854.5 2964.6 L1857.5 2964.8 L1860.6 2964.9 L1863.6 2965.1 L1866.6 2965.3 L1869.6 2965.4 L1872.6 2965.6 L1875.6 2965.8 L1878.6 2965.9 L1881.6 2966.1 L1884.6 2966.2 L1887.6 2966.4 L1890.6 2966.5 L1893.6 2966.7 L1896.6 2966.9 L1899.7 2967.0 L1902.7 2967.2 L1905.7 2967.3 L1908.7 2967.5 L1911.7 2967.6 L1914.7 2967.8 L1917.7 2967.9 L1920.7 2968.1 L1923.7 2968.3 L1926.7 2968.4 L1929.7 2968.6 L1932.7 2968.7 L1935.7 2968.9 L1938.7 2969.0 L1941.7 2969.2 L1944.7 2969.3 L1947.7 2969.5 L1950.7 2969.6 L1953.7 2969.8 L1956.7 2969.9 L1959.7 2970.1 L1962.7 2970.2 L1965.7 2970.4 L1968.7 2970.5 L1971.7 2970.7 L1974.7 2970.8 L1977.7 2971.0 L1980.7 2971.1 L1983.7 2971.3 L1986.7 2971.4 L1989.7 2971.6 L1992.7 2971.7 L1995.7 2971.9 L1998.7 2972.0 L2001.7 2972.2 L2004.7 2972.3 L2007.7 2972.5 L2010.7 2972.6 L2013.7 2972.8 L2016.7 2972.9 L2019.7 2973.1 L2022.7 2973.3 L2025.6 2973.4 L2028.6 2973.6 L2031.6 2973.7 L2034.6 2973.9 L2037.6 2974.0 L2040.6 2974.2 L2043.6 2974.4 L2046.6 2974.5 L2049.6 2974.7 L2052.5 2974.8 L2055.5 2975.0 L2058.5 2975.2 L2061.5 2975.3 L2064.5 2975.5 L2067.5 2975.7 L2070.4 2975.8 L2073.4 2976.0 L2076.4 2976.2 L2079.4 2976.3 L2082.4 2976.5 L2085.3 2976.7 L2088.3 2976.8 L2091.3 2977.0" stroke="#0000ff" stroke-width="5.8"/>
<path d="M388.71 1918.49 L390.7 1920.7 L392.6 1922.9 L394.6 1925.1 L396.5 1927.3 L398.5 1929.6 L400.4 1931.8 L402.3 1934.1 L404.2 1936.4 L406.1 1938.6 L408.0 1940.9 L409.9 1943.2 L411.8 1945.5 L413.6 1947.9 L415.5 1950.2 L417.4 1952.5 L419.2 1954.9 L421.1 1957.2 L422.9 1959.6 L424.7 1961.9 L426.6 1964.3 L428.4 1966.7 L430.2 1969.1 L432.0 1971.5 L433.8 1973.9 L435.7 1976.3 L437.5 1978.7 L439.3 1981.1 L441.1 1983.5 L442.8 1985.9 L444.6 1988.4 L446.4 1990.8 L448.2 1993.2 L450.0 1995.7 L451.8 1998.1 L453.6 2000.5 L455.3 2003.0 L457.1 2005.4 L458.9 2007.9 L460.7 2010.3 L462.5 2012.8 L464.2 2015.2 L466.0 2017.7 L467.8 2020.1 L469.6 2022.6 L471.4 2025.0 L473.1 2027.5 L474.9 2029.9 L476.7 2032.4 L478.5 2034.8 L480.3 2037.3 L482.1 2039.7 L483.9 2042.1 L485.7 2044.6 L487.5 2047.0 L489.3 2049.4 L491.1 2051.9 L492.9 2054.3 L494.7 2056.7 L496.5 2059.1 L498.3 2061.5 L500.2 2063.9 L502.0 2066.3 L503.8 2068.7 L505.7 2071.1 L507.5 2073.5 L509.4 2075.9 L511.3 2078.2 L513.1 2080.6 L515.0 2083.0 L516.9 2085.3 L518.8 2087.6 L520.7 2090.0 L522.6 2092.3 L524.5 2094.6 L526.4 2096.9 L528.3 2099.2 L530.3 2101.5 L532.2 2103.8 L534.2 2106.0 L536.2 2108.3 L538.1 2110.5 L540.1 2112.8 L542.1 2115.0 L544.1 2117.2 L546.2 2119.4 L548.2 2121.6 L550.2 2123.8 L552.3 2125.9 L554.3 2128.1 L556.4 2130.2 L558.5 2132.3 L560.6 2134.4 L562.7 2136.5 L564.9 2138.6 L567.0 2140.7 L569.1 2142.7 L571.3 2144.8 L573.5 2146.8 L575.7 2148.8 L577.9 2150.8 L580.1 2152.7 L582.4 2154.7 L584.6 2156.6 L586.9 2158.5 L589.2 2160.4 L591.5 2162.3 L593.8 2164.2 L596.1 2166.0 L598.5 2167.9 L600.8 2169.7 L603.2 2171.5 L605.6 2173.3 L607.9 2175.1 L610.3 2176.8 L612.8 2178.6 L615.2 2180.3 L617.6 2182.1 L620.1 2183.8 L622.5 2185.5 L625.0 2187.2 L627.5 2188.9 L630.0 2190.5 L632.4 2192.2 L634.9 2193.9 L637.5 2195.5 L640.0 2197.1 L642.5 2198.8 L645.0 2200.4 L647.6 2202.0 L650.1 2203.6 L652.7 2205.2 L655.2 2206.8 L657.8 2208.4 L660.4 2209.9 L662.9 2211.5 L665.5 2213.1 L668.1 2214.6 L670.7 2216.2 L673.3 2217.8 L675.9 2219.3 L678.5 2220.8 L681.1 2222.4 L683.7 2223.9 L686.3 2225.5 L688.9 2227.0 L691.5 2228.5 L694.1 2230.1 L696.7 2231.6 L699.3 2233.1 L701.9 2234.7 L704.5 2236.2 L707.1 2237.8 L709.7 2239.3 L712.3 2240.8 L714.9 2242.4 L717.5 2243.9 L720.1 2245.5 L722.7 2247.0 L725.3 2248.6 L727.9 2250.1 L730.5 2251.7 L733.1 2253.2 L735.6 2254.8 L738.2 2256.4 L740.8 2257.9 L743.3 2259.5 L745.9 2261.1 L748.5 2262.7 L751.0 2264.3 L753.6 2265.9 L756.1 2267.5 L758.7 2269.1 L761.2 2270.7 L763.7 2272.3 L766.3 2273.9 L768.8 2275.6 L771.3 2277.2 L773.8 2278.8 L776.4 2280.4 L778.9 2282.1 L781.4 2283.7 L783.9 2285.4 L786.4 2287.0 L788.9 2288.7 L791.4 2290.3 L793.9 2292.0 L796.4 2293.6 L798.9 2295.3 L801.4 2297.0 L803.9 2298.6 L806.4 2300.3 L808.9 2302.0 L811.3 2303.7 L813.8 2305.3 L816.3 2307.0 L818.8 2308.7 L821.3 2310.4 L823.7 2312.1 L826.2 2313.8 L828.7 2315.5 L831.1 2317.2 L833.6 2318.9 L836.1 2320.6 L838.5 2322.3 L841.0 2324.0 L843.4 2325.7 L845.9 2327.5 L848.4 2329.2 L850.8 2330.9 L853.3 2332.6 L855.7 2334.4 L858.2 2336.1 L860.6 2337.8 L863.1 2339.6 L865.5 2341.3 L867.9 2343.0 L870.4 2344.8 L872.8 2346.5 L875.3 2348.3 L877.7 2350.0 L880.2 2351.7 L882.6 2353.5 L885.0 2355.2 L887.5 2357.0 L889.9 2358.8 L892.3 2360.5 L894.8 2362.3 L897.2 2364.0 L899.7 2365.8 L902.1 2367.5 L904.5 2369.3 L907.0 2371.1 L909.4 2372.8 L911.8 2374.6 L914.3 2376.4 L916.7 2378.1 L919.1 2379.9 L921.6 2381.7 L924.0 2383.4 L926.4 2385.2 L928.9 2387.0 L931.3 2388.8 L933.7 2390.5 L936.2 2392.3 L938.6 2394.1 L941.0 2395.8 L943.4 2397.6 L945.9 2399.4 L948.3 2401.2 L950.7 2402.9 L953.2 2404.7 L955.6 2406.5 L958.0 2408.2 L960.5 2410.0 L962.9 2411.8 L965.3 2413.6 L967.8 2415.3 L970.2 2417.1 L972.7 2418.9 L975.1 2420.6 L977.5 2422.4 L980.0 2424.2 L982.4 2425.9 L984.8 2427.7 L987.3 2429.5 L989.7 2431.2 L992.2 2433.0 L994.6 2434.8 L997.1 2436.5 L999.5 2438.3 L1001.9 2440.0 L1004.4 2441.8 L1006.8 2443.5 L1009.3 2445.3 L1011.7 2447.0 L1014.2 2448.8 L1016.6 2450.5 L1019.1 2452.3 L1021.5 2454.0 L1024.0 2455.8 L1026.4 2457.5 L1028.9 2459.2 L1031.4 2461.0 L1033.8 2462.7 L1036.3 2464.4 L1038.8 2466.2 L1041.2 2467.9 L1043.7 2469.6 L1046.2 2471.3 L1048.6 2473.1 L1051.1 2474.8 L1053.6 2476.5 L1056.0 2478.2 L1058.5 2479.9 L1061.0 2481.6 L1063.5 2483.3 L1066.0 2485.0 L1068.4 2486.7 L1070.9 2488.4 L1073.4 2490.1 L1075.9 2491.8 L1078.4 2493.4 L1080.9 2495.1 L1083.4 2496.8 L1085.9 2498.5 L1088.4 2500.1 L1090.9 2501.8 L1093.4 2503.5 L1095.9 2505.1 L1098.4 2506.8 L1100.9 2508.4 L1103.4 2510.1 L1105.9 2511.7 L1108.5 2513.3 L1111.0 2515.0 L1113.5 2516.6 L1116.0 2518.2 L1118.6 2519.8 L1121.1 2521.5 L1123.6 2523.1 L1126.2 2524.7 L1128.7 2526.3 L1131.2 2527.9 L1133.8 2529.5 L1136.3 2531.0 L1138.9 2532.6 L1141.4 2534.2 L1144.0 2535.8 L1146.5 2537.3 L1149.1 2538.9 L1151.7 2540.5 L1154.2 2542.0 L1156.8 2543.6 L1159.4 2545.1 L1162.0 2546.6 L1164.5 2548.2 L1167.1 2549.7 L1169.7 2551.2 L1172.3 2552.7 L1174.9 2554.2 L1177.5 2555.7 L1180.1 2557.2 L1182.7 2558.7 L1185.3 2560.2 L1187.9 2561.7 L1190.5 2563.1 L1193.1 2564.6 L1195.8 2566.1 L1198.4 2567.5 L1201.0 2569.0 L1203.6 2570.4 L1206.3 2571.8 L1208.9 2573.3 L1211.5 2574.7 L1214.2 2576.1 L1216.8 2577.5 L1219.5 2578.9 L1222.1 2580.3 L1224.8 2581.7 L1227.5 2583.1 L1230.1 2584.5 L1232.8 2585.9 L1235.5 2587.2 L1238.1 2588.6 L1240.8 2590.0 L1243.5 2591.3 L1246.2 2592.7 L1248.8 2594.0 L1251.5 2595.4 L1254.2 2596.7 L1256.9 2598.0 L1259.6 2599.3 L1262.3 2600.7 L1265.0 2602.0 L1267.7 2603.3 L1270.4 2604.6 L1273.1 2605.9 L1275.8 2607.2 L1278.5 2608.5 L1281.2 2609.8 L1284.0 2611.0 L1286.7 2612.3 L1289.4 2613.6 L1292.1 2614.9 L1294.9 2616.1 L1297.6 2617.4 L1300.3 2618.6 L1303.1 2619.9 L1305.8 2621.1 L1308.5 2622.4 L1311.3 2623.6 L1314.0 2624.8 L1316.8 2626.1 L1319.5 2627.3 L1322.3 2628.5 L1325.0 2629.7 L1327.8 2630.9 L1330.5 2632.1 L1333.3 2633.3 L1336.1 2634.5 L1338.8 2635.7 L1341.6 2636.9 L1344.4 2638.1 L1347.1 2639.3 L1349.9 2640.4 L1352.7 2641.6 L1355.5 2642.8 L1358.2 2643.9 L1361.0 2645.1 L1363.8 2646.3 L1366.6 2647.4 L1369.4 2648.6 L1372.2 2649.7 L1374.9 2650.8 L1377.7 2652.0 L1380.5 2653.1 L1383.3 2654.2 L1386.1 2655.4 L1388.9 2656.5 L1391.7 2657.6 L1394.5 2658.7 L1397.3 2659.9 L1400.1 2661.0 L1402.9 2662.1 L1405.7 2663.2 L1408.5 2664.3 L1411.3 2665.4 L1414.1 2666.5 L1417.0 2667.6 L1419.8 2668.6 L1422.6 2669.7 L1425.4 2670.8 L1428.2 2671.9 L1431.0 2673.0 L1433.9 2674.0 L1436.7 2675.1 L1439.5 2676.2 L1442.3 2677.2 L1445.1 2678.3 L1448.0 2679.4 L1450.8 2680.4 L1453.6 2681.5 L1456.4 2682.5 L1459.3 2683.6 L1462.1 2684.6 L1464.9 2685.7 L1467.8 2686.7 L1470.6 2687.7 L1473.4 2688.8 L1476.3 2689.8 L1479.1 2690.9 L1481.9 2691.9 L1484.8 2692.9 L1487.6 2693.9 L1490.4 2695.0 L1493.3 2696.0 L1496.1 2697.0 L1499.0 2698.0 L1501.8 2699.0 L1504.6 2700.0 L1507.5 2701.1 L1510.3 2702.1 L1513.2 2703.1 L1516.0 2704.1 L1518.8 2705.1 L1521.7 2706.1 L1524.5 2707.1 L1527.4 2708.1 L1530.2 2709.1 L1533.1 2710.1 L1535.9 2711.1 L1538.8 2712.0 L1541.6 2713.0 L1544.4 2714.0 L1547.3 2715.0 L1550.1 2716.0 L1553.0 2717.0 L1555.8 2718.0 L1558.7 2718.9 L1561.5 2719.9 L1564.4 2720.9 L1567.2 2721.9 L1570.1 2722.8 L1572.9 2723.8 L1575.8 2724.8 L1578.6 2725.8 L1581.5 2726.7 L1584.3 2727.7 L1587.2 2728.6 L1590.0 2729.6 L1592.9 2730.6 L1595.7 2731.5 L1598.6 2732.5 L1601.4 2733.4 L1604.3 2734.4 L1607.1 2735.3 L1610.0 2736.3 L1612.8 2737.2 L1615.7 2738.2 L1618.5 2739.1 L1621.4 2740.1 L1624.3 2741.0 L1627.1 2741.9 L1630.0 2742.9 L1632.8 2743.8 L1635.7 2744.7 L1638.5 2745.7 L1641.4 2746.6 L1644.2 2747.5 L1647.1 2748.5 L1650.0 2749.4 L1652.8 2750.3 L1655.7 2751.2 L1658.5 2752.1 L1661.4 2753.1 L1664.3 2754.0 L1667.1 2754.9 L1670.0 2755.8 L1672.8 2756.7 L1675.7 2757.6 L1678.6 2758.5 L1681.4 2759.4 L1684.3 2760.3 L1687.2 2761.2 L1690.0 2762.1 L1692.9 2763.0 L1695.8 2763.9 L1698.6 2764.8 L1701.5 2765.7 L1704.4 2766.6 L1707.2 2767.5 L1710.1 2768.4 L1713.0 2769.3 L1715.8 2770.1 L1718.7 2771.0 L1721.6 2771.9 L1724.4 2772.8 L1727.3 2773.6 L1730.2 2774.5 L1733.1 2775.4 L1735.9 2776.2 L1738.8 2777.1 L1741.7 2778.0 L1744.6 2778.8 L1747.4 2779.7 L1750.3 2780.6 L1753.2 2781.4 L1756.1 2782.3 L1758.9 2783.1 L1761.8 2784.0 L1764.7 2784.8 L1767.6 2785.7 L1770.4 2786.5 L1773.3 2787.3 L1776.2 2788.2 L1779.1 2789.0 L1782.0 2789.9 L1784.8 2790.7 L1787.7 2791.5 L1790.6 2792.4 L1793.5 2793.2 L1796.4 2794.0 L1799.3 2794.8 L1802.2 2795.7 L1805.0 2796.5 L1807.9 2797.3 L1810.8 2798.1 L1813.7 2798.9 L1816.6 2799.7 L1819.5 2800.5 L1822.4 2801.3 L1825.3 2802.2 L1828.1 2803.0 L1831.0 2803.8 L1833.9 2804.6 L1836.8 2805.4 L1839.7 2806.1 L1842.6 2806.9 L1845.5 2807.7 L1848.4 2808.5 L1851.3 2809.3 L1854.2 2810.1 L1857.1 2810.9 L1860.0 2811.6 L1862.9 2812.4 L1865.8 2813.2 L1868.7 2814.0 L1871.6 2814.7 L1874.5 2815.5 L1877.4 2816.3 L1880.3 2817.0 L1883.2 2817.8 L1886.1 2818.6 L1889.0 2819.3 L1891.9 2820.1 L1894.8 2820.8 L1897.7 2821.6 L1900.6 2822.3 L1903.5 2823.1 L1906.4 2823.8 L1909.4 2824.6 L1912.3 2825.3 L1915.2 2826.0 L1918.1 2826.8 L1921.0 2827.5 L1923.9 2828.2 L1926.8 2829.0 L1929.7 2829.7 L1932.7 2830.4 L1935.6 2831.1 L1938.5 2831.9 L1941.4 2832.6 L1944.3 2833.3 L1947.3 2834.0 L1950.2 2834.7 L1953.1 2835.4 L1956.0 2836.1 L1958.9 2836.8 L1961.9 2837.5 L1964.8 2838.2 L1967.7 2838.9 L1970.6 2839.6 L1973.6 2840.3 L1976.5 2841.0 L1979.4 2841.7 L1982.3 2842.4 L1985.3 2843.0 L1988.2 2843.7 L1991.1 2844.4 L1994.1 2845.1 L1997.0 2845.8 L1999.9 2846.4 L2002.9 2847.1 L2005.8 2847.8 L2008.7 2848.4 L2011.7 2849.1 L2014.6 2849.7 L2017.6 2850.4 L2020.5 2851.0 L2023.4 2851.7 L2026.4 2852.3 L2029.3 2853.0 L2032.3 2853.6 L2035.2 2854.3 L2038.1 2854.9 L2041.1 2855.6 L2044.0 2856.2 L2047.0 2856.8 L2049.9 2857.4 L2052.9 2858.1 L2055.8 2858.7 L2058.8 2859.3 L2061.7 2859.9 L2064.7 2860.6 L2067.6 2861.2 L2070.6 2861.8 L2073.6 2862.4 L2076.5 2863.0 L2079.5 2863.6 L2082.4 2864.2 L2085.4 2864.8 L2088.3 2865.4 L2091.3 2866.0" stroke="#008080" stroke-width="5.8"/>
</g>
<g clip-path="url(#clipB)">
<rect x="364.7" y="1893.2" width="48" height="48" fill="#000"/>
<rect x="790" y="1816.5" width="48" height="48" fill="#000"/>
<rect x="2066.8" y="1979" width="48" height="48" fill="#000"/>
<circle cx="388.7" cy="1918.5" r="27" fill="#ff0000"/>
<circle cx="814" cy="1949.7" r="27" fill="#ff0000"/>
<circle cx="2091.4" cy="1980.1" r="27" fill="#ff0000"/>
<path d="M388.7 1881.27 L421.2 1937.56 L356.2 1937.56 Z" fill="#0000ff"/>
<path d="M459.3 2357.27 L491.8 2413.56 L426.8 2413.56 Z" fill="#0000ff"/>
<path d="M601.5 2480.47 L634 2536.76 L569 2536.76 Z" fill="#0000ff"/>
<path d="M814 2638.27 L846.5 2694.56 L781.5 2694.56 Z" fill="#0000ff"/>
<path d="M1240 2894.47 L1272.5 2950.76 L1207.5 2950.76 Z" fill="#0000ff"/>
<path d="M2091 2940.97 L2123.5 2997.26 L2058.5 2997.26 Z" fill="#0000ff"/>
<path d="M388.7 1956.23 L421.2 1899.94 L356.2 1899.94 Z" fill="#008080"/>
<path d="M459.3 2050.03 L491.8 1993.74 L426.8 1993.74 Z" fill="#008080"/>
<path d="M601.5 2229.43 L634 2173.14 L569 2173.14 Z" fill="#008080"/>
<path d="M814 2324.63 L846.5 2268.34 L781.5 2268.34 Z" fill="#008080"/>
<path d="M1240 2683.33 L1272.5 2627.04 L1207.5 2627.04 Z" fill="#008080"/>
<path d="M2091 2903.93 L2123.5 2847.64 L2058.5 2847.64 Z" fill="#008080"/>
</g>
<g>
<line x1="814" y1="1742.2" x2="814" y2="1814.5" stroke="#000000" stroke-opacity="0.8" stroke-width="2.4"/><line x1="814" y1="1866.5" x2="814" y2="1938.9" stroke="#000000" stroke-opacity="0.8" stroke-width="2.4"/><line x1="800.5" y1="1742.2" x2="827.5" y2="1742.2" stroke="#000000" stroke-opacity="0.85" stroke-width="2.8"/><line x1="800.5" y1="1938.9" x2="827.5" y2="1938.9" stroke="#000000" stroke-opacity="0.85" stroke-width="2.8"/>
<line x1="2091.2" y1="1980.5" x2="2091.2" y2="1988.5" stroke="#000000" stroke-opacity="0.6" stroke-width="2.4"/>
<line x1="459.3" y1="2329.5" x2="459.3" y2="2360.3" stroke="#0000ff" stroke-opacity="0.45" stroke-width="4.5"/><line x1="459.3" y1="2429.3" x2="459.3" y2="2460.2" stroke="#0000ff" stroke-opacity="0.45" stroke-width="4.5"/><line x1="445.3" y1="2329.5" x2="473.3" y2="2329.5" stroke="#0000ff" stroke-opacity="0.55" stroke-width="3.2"/><line x1="445.3" y1="2460.2" x2="473.3" y2="2460.2" stroke="#0000ff" stroke-opacity="0.55" stroke-width="3.2"/>
<line x1="601.5" y1="2479.1" x2="601.5" y2="2483.5" stroke="#0000ff" stroke-opacity="0.45" stroke-width="4.5"/><line x1="601.5" y1="2552.5" x2="601.5" y2="2556.9" stroke="#0000ff" stroke-opacity="0.45" stroke-width="4.5"/><line x1="587.5" y1="2479.1" x2="615.5" y2="2479.1" stroke="#0000ff" stroke-opacity="0.55" stroke-width="3.2"/><line x1="587.5" y1="2556.9" x2="615.5" y2="2556.9" stroke="#0000ff" stroke-opacity="0.55" stroke-width="3.2"/>
<line x1="814" y1="2635.3" x2="814" y2="2641.3" stroke="#0000ff" stroke-opacity="0.45" stroke-width="4.5"/><line x1="814" y1="2710.3" x2="814" y2="2716.3" stroke="#0000ff" stroke-opacity="0.45" stroke-width="4.5"/><line x1="800" y1="2635.3" x2="828" y2="2635.3" stroke="#0000ff" stroke-opacity="0.55" stroke-width="3.2"/><line x1="800" y1="2716.3" x2="828" y2="2716.3" stroke="#0000ff" stroke-opacity="0.55" stroke-width="3.2"/>
<line x1="1240" y1="2897.5" x2="1240" y2="2899.2" stroke="#0000ff" stroke-opacity="0.45" stroke-width="4.5"/><line x1="1240" y1="2964.8" x2="1240" y2="2966.5" stroke="#0000ff" stroke-opacity="0.45" stroke-width="4.5"/><line x1="1226" y1="2899.2" x2="1254" y2="2899.2" stroke="#0000ff" stroke-opacity="0.55" stroke-width="3.2"/><line x1="1226" y1="2964.8" x2="1254" y2="2964.8" stroke="#0000ff" stroke-opacity="0.55" stroke-width="3.2"/>
<line x1="459.3" y1="1959.5" x2="459.3" y2="1978" stroke="#008080" stroke-opacity="0.45" stroke-width="4.5"/><line x1="459.3" y1="2047" x2="459.3" y2="2066.5" stroke="#008080" stroke-opacity="0.45" stroke-width="4.5"/><line x1="445.3" y1="1959.5" x2="473.3" y2="1959.5" stroke="#008080" stroke-opacity="0.55" stroke-width="3.2"/><line x1="445.3" y1="2066.5" x2="473.3" y2="2066.5" stroke="#008080" stroke-opacity="0.55" stroke-width="3.2"/>
<line x1="2091" y1="2823.1" x2="2091" y2="2831.9" stroke="#008080" stroke-opacity="0.45" stroke-width="4.5"/><line x1="2091" y1="2900.9" x2="2091" y2="2909.9" stroke="#008080" stroke-opacity="0.45" stroke-width="4.5"/><line x1="2077" y1="2823.1" x2="2105" y2="2823.1" stroke="#008080" stroke-opacity="0.55" stroke-width="3.2"/><line x1="2077" y1="2909.9" x2="2105" y2="2909.9" stroke="#008080" stroke-opacity="0.55" stroke-width="3.2"/>
<line x1="601.5" y1="2157.4" x2="601.5" y2="2173" stroke="#008080" stroke-opacity="0.45" stroke-width="4.5"/>
<line x1="814" y1="2252.9" x2="814" y2="2268.5" stroke="#008080" stroke-opacity="0.45" stroke-width="4.5"/>
<line x1="1240" y1="2611" x2="1240" y2="2627" stroke="#008080" stroke-opacity="0.45" stroke-width="4.5"/>
</g>
<text transform="translate(342.5 3022.3) scale(1 1.04)" font-size="77" text-anchor="end">0</text>
<text transform="translate(342.5 2805.78) scale(1 1.04)" font-size="77" text-anchor="end">20</text>
<text transform="translate(342.5 2589.25) scale(1 1.04)" font-size="77" text-anchor="end">40</text>
<text transform="translate(342.5 2372.73) scale(1 1.04)" font-size="77" text-anchor="end">60</text>
<text transform="translate(342.5 2156.21) scale(1 1.04)" font-size="77" text-anchor="end">80</text>
<text transform="translate(342.5 1939.68) scale(1 1.04)" font-size="77" text-anchor="end">100</text>
<text transform="translate(342.5 1723.16) scale(1 1.04)" font-size="77" text-anchor="end">120</text>
<text transform="translate(388.7 3105.5) scale(1 1.04)" font-size="77" text-anchor="middle">0</text>
<text transform="translate(601.52 3105.5) scale(1 1.04)" font-size="77" text-anchor="middle">30</text>
<text transform="translate(814.34 3105.5) scale(1 1.04)" font-size="77" text-anchor="middle">60</text>
<text transform="translate(1027.16 3105.5) scale(1 1.04)" font-size="77" text-anchor="middle">90</text>
<text transform="translate(1239.98 3105.5) scale(1 1.04)" font-size="77" text-anchor="middle">120</text>
<text transform="translate(1452.8 3105.5) scale(1 1.04)" font-size="77" text-anchor="middle">150</text>
<text transform="translate(1665.62 3105.5) scale(1 1.04)" font-size="77" text-anchor="middle">180</text>
<text transform="translate(1878.44 3105.5) scale(1 1.04)" font-size="77" text-anchor="middle">210</text>
<text transform="translate(2091.26 3105.5) scale(1 1.04)" font-size="77" text-anchor="middle">240</text>
<text transform="translate(40.1 1755.5) scale(1 1.04)" font-size="109">B</text>
<text transform="translate(162.3 2765.3) rotate(-90) scale(1 1.04)" font-size="82.2">Relative activity (%)</text>
<text transform="translate(1078.5 3236.2) scale(1 1.04)" font-size="82.7" letter-spacing="0.4">Time (min)</text>
<rect x="1025" y="2083" width="30" height="30" fill="#000"/>
<circle cx="1041" cy="2171.1" r="14" fill="#ff0000"/>
<path d="M1053.6 2229.4 L1076.6 2273.3 L1031 2273.3 Z" fill="#1500ff"/>
<path d="M1031 2307.4 L1078 2307.4 L1054.5 2351.9 Z" fill="#218080"/>
<text transform="translate(1078.3 2112) scale(1 1.04)" font-size="65.7"><tspan font-style="italic">Ec</tspan>KARI</text>
<text transform="translate(1078.3 2189.5) scale(1 1.04)" font-size="65.7"><tspan font-style="italic">Ec</tspan>KARI_De</text>
<text transform="translate(1087.8 2273.4) scale(1 1.04)" font-size="65.7"><tspan font-style="italic">Ec</tspan>KARI</text>
<text transform="translate(1087.8 2351) scale(1 1.04)" font-size="65.7"><tspan font-style="italic">Ec</tspan>KARI_De</text>
<text transform="translate(1453.3 2112) scale(1 1.04)" font-size="65.7">no isobutanol</text>
<text transform="translate(1453.3 2188) scale(1 1.04)" font-size="65.7">no isobutanol</text>
<text transform="translate(1455.4 2272.8) scale(1 1.04)" font-size="65.7">10% isobutanol added</text>
<text transform="translate(1455.4 2350.8) scale(1 1.04)" font-size="65.7">10% isobutanol added</text>
</svg></body></html>
